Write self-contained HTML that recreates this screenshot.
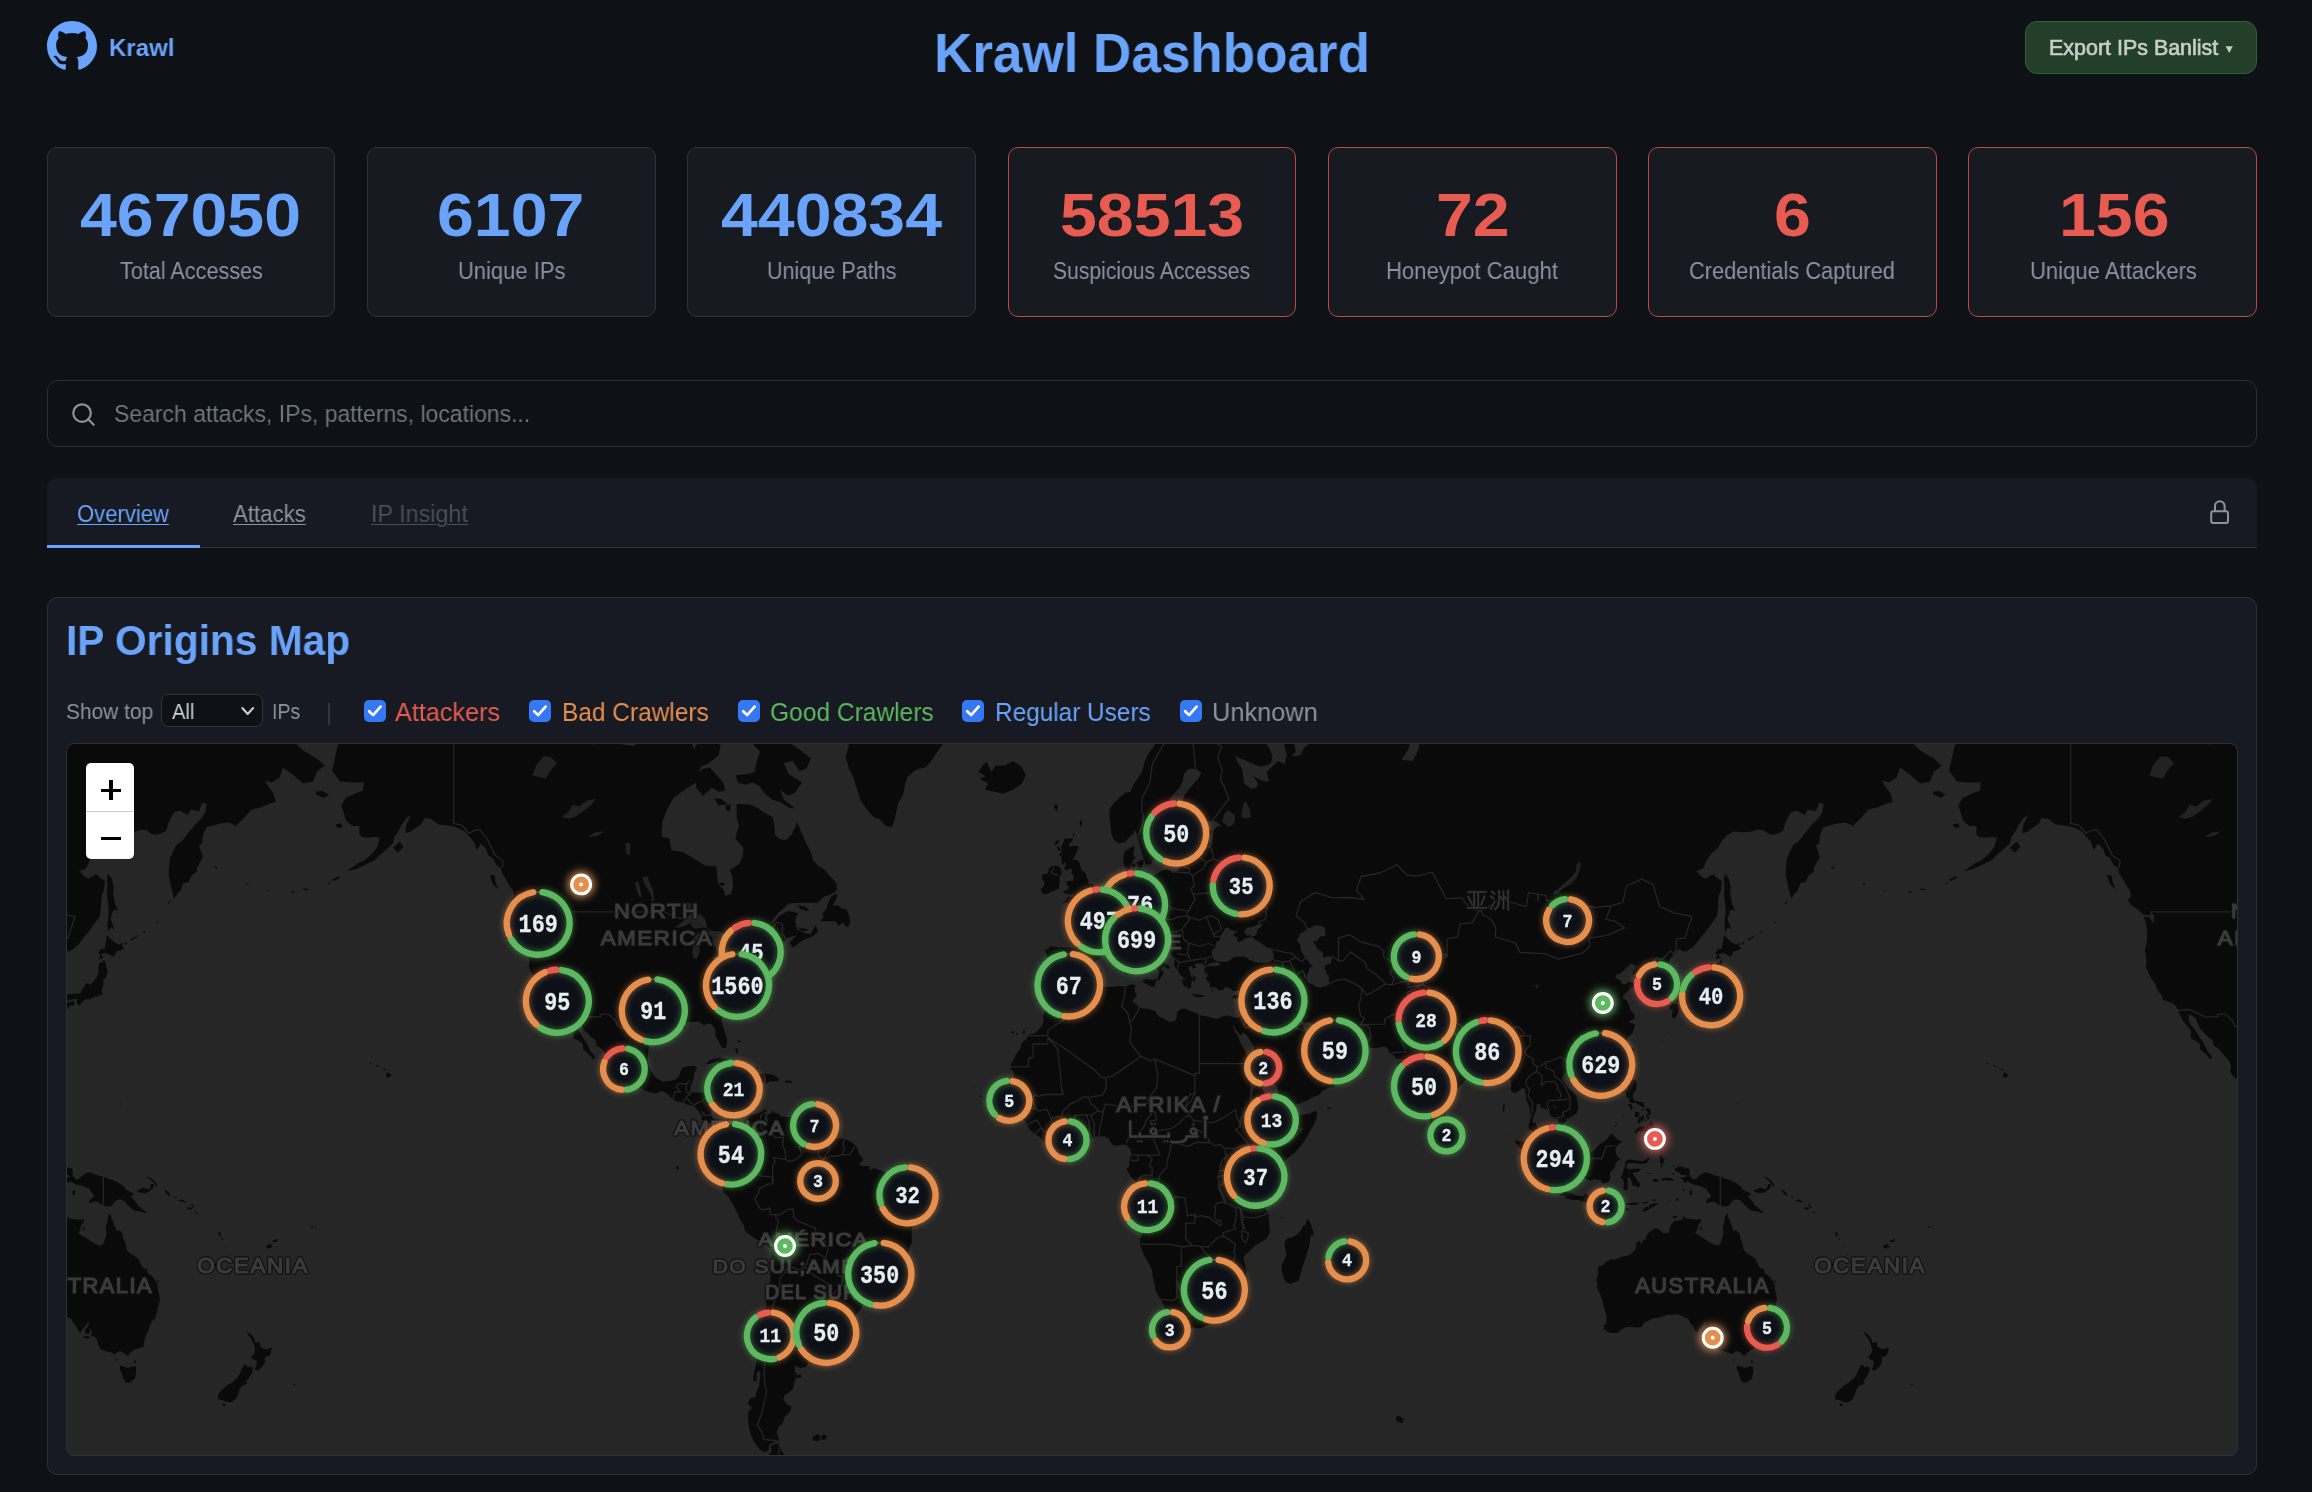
<!DOCTYPE html>
<html lang="en"><head><meta charset="utf-8"><title>Krawl Dashboard</title>
<style>
html,body{margin:0;padding:0}
body{width:2312px;height:1492px;background:#0e1116;position:relative;overflow:hidden;font-family:"Liberation Sans",sans-serif}
h1,h2{margin:0}
.t{position:absolute;white-space:pre;line-height:1;font-family:"Liberation Sans",sans-serif;transform-origin:0 50%;will-change:transform}
.card{position:absolute;top:147px;height:170px;box-sizing:border-box;background:#181a22;border:1.3px solid #2e323a;border-radius:10px}
.card.red{border-color:#b64a43}
.box{position:absolute;box-sizing:border-box}
.cb{position:absolute;top:700px;width:21.75px;height:21.75px;border-radius:5px;background:#3478f6}
.cb svg{position:absolute;left:0;top:0;width:100%;height:100%}
.cb path{fill:none;stroke:#fff;stroke-width:2.7;stroke-linecap:round;stroke-linejoin:round}
svg text{font-family:"Liberation Sans",sans-serif}
.cl text{font-family:"Liberation Mono",monospace}
</style></head>
<body>
<header>
<svg class="box" style="left:47px;top:21px" width="50" height="50" viewBox="0 0 16 16"><path fill="#6aa3fa" d="M8 0C3.58 0 0 3.58 0 8c0 3.54 2.29 6.53 5.47 7.59.4.07.55-.17.55-.38 0-.19-.01-.82-.01-1.49-2.01.37-2.53-.49-2.69-.94-.09-.23-.48-.94-.82-1.13-.28-.15-.68-.52-.01-.53.63-.01 1.08.58 1.23.82.72 1.21 1.87.87 2.33.66.07-.52.28-.87.51-1.07-1.78-.2-3.64-.89-3.64-3.95 0-.87.31-1.59.82-2.15-.08-.2-.36-1.02.08-2.12 0 0 .67-.21 2.2.82.64-.18 1.32-.27 2-.27.68 0 1.36.09 2 .27 1.53-1.04 2.2-.82 2.2-.82.44 1.1.16 1.92.08 2.12.51.56.82 1.27.82 2.15 0 3.07-1.87 3.75-3.65 3.95.29.25.54.73.54 1.48 0 1.07-.01 1.93-.01 2.2 0 .21.15.46.55.38A8.013 8.013 0 0016 8c0-4.42-3.58-8-8-8z"/></svg>
<div class="box" style="left:2025px;top:21px;width:232px;height:53px;background:#233f29;border:1.3px solid #2f6337;border-radius:12px"></div>
<svg class="box" style="left:2225px;top:45px" width="9" height="9" viewBox="0 0 9 9"><path d="M0.6 1.2h7.2L4.2 8z" fill="#c4cfc8"/></svg>
<span class="t" style="left:109.42px;top:35.93px;font-size:24.71px;transform:scaleX(0.9722);color:#6aa3fa;font-weight:700;">Krawl</span>
<h1 class="t" style="left:933.86px;top:26.03px;font-size:55.60px;transform:scaleX(0.9536);color:#6aa3fa;font-weight:700;">Krawl Dashboard</h1>
<span class="t" style="left:2048.52px;top:37.51px;font-size:21.37px;transform:scaleX(1.0040);color:#c4cfc8;-webkit-text-stroke:0.65px #c4cfc8;">Export IPs Banlist</span>
</header>
<section class="stats">
<div class="card" style="left:47px;width:288px"></div>
<span class="t" style="left:80.14px;top:185.17px;font-size:60.76px;transform:scaleX(1.0900);color:#6aa3fa;font-weight:700;">467050</span>
<span class="t" style="left:119.56px;top:258.74px;font-size:24.35px;transform:scaleX(0.8873);color:#8b949e;">Total Accesses</span>
<div class="card" style="left:367px;width:289px"></div>
<span class="t" style="left:436.96px;top:185.17px;font-size:60.76px;transform:scaleX(1.0900);color:#6aa3fa;font-weight:700;">6107</span>
<span class="t" style="left:458.04px;top:258.74px;font-size:24.35px;transform:scaleX(0.9019);color:#8b949e;">Unique IPs</span>
<div class="card" style="left:687px;width:289px"></div>
<span class="t" style="left:720.77px;top:185.17px;font-size:60.76px;transform:scaleX(1.0900);color:#6aa3fa;font-weight:700;">440834</span>
<span class="t" style="left:766.81px;top:258.74px;font-size:24.35px;transform:scaleX(0.8851);color:#8b949e;">Unique Paths</span>
<div class="card red" style="left:1008px;width:288px"></div>
<span class="t" style="left:1059.80px;top:185.17px;font-size:60.76px;transform:scaleX(1.0900);color:#e85b50;font-weight:700;">58513</span>
<span class="t" style="left:1053.34px;top:258.74px;font-size:24.35px;transform:scaleX(0.8669);color:#8b949e;">Suspicious Accesses</span>
<div class="card red" style="left:1328px;width:289px"></div>
<span class="t" style="left:1436.17px;top:185.17px;font-size:60.76px;transform:scaleX(1.0900);color:#e85b50;font-weight:700;">72</span>
<span class="t" style="left:1386.28px;top:258.74px;font-size:24.35px;transform:scaleX(0.9074);color:#8b949e;">Honeypot Caught</span>
<div class="card red" style="left:1648px;width:289px"></div>
<span class="t" style="left:1774.08px;top:185.17px;font-size:60.76px;transform:scaleX(1.0900);color:#e85b50;font-weight:700;">6</span>
<span class="t" style="left:1689.30px;top:258.74px;font-size:24.35px;transform:scaleX(0.8950);color:#8b949e;">Credentials Captured</span>
<div class="card red" style="left:1968px;width:289px"></div>
<span class="t" style="left:2058.76px;top:185.17px;font-size:60.76px;transform:scaleX(1.0900);color:#e85b50;font-weight:700;">156</span>
<span class="t" style="left:2029.54px;top:258.74px;font-size:24.35px;transform:scaleX(0.9071);color:#8b949e;">Unique Attackers</span>
</section>
<div class="search">
<div class="box" style="left:47px;top:380px;width:2210px;height:67px;background:#0e1116;border:1.3px solid #2a2f37;border-radius:11px"></div>
<svg class="box" style="left:69.7px;top:400.5px" width="26.3" height="26.3" viewBox="0 0 24 24" fill="none" stroke="#8b949e" stroke-width="2" stroke-linecap="round"><circle cx="11" cy="11" r="8"/><path d="M21.6 21.6l-4.95-4.95"/></svg>
<span class="t" style="left:113.74px;top:402.66px;font-size:23.26px;transform:scaleX(0.9881);color:#6e7681;">Search attacks, IPs, patterns, locations...</span>
</div>
<nav>
<div class="box" style="left:47px;top:478px;width:2210px;height:70px;background:#171a22;border-bottom:1.3px solid #2f343c;border-radius:9px 9px 0 0"></div>
<div class="box" style="left:47px;top:545.4px;width:153px;height:2.6px;background:#6aa3fa"></div>
<a class="t" style="left:77.04px;top:502.61px;font-size:23.62px;transform:scaleX(0.9342);color:#6aa3fa;text-decoration:underline;text-decoration-thickness:1.3px;text-underline-offset:2.2px;">Overview</a>
<a class="t" style="left:233.28px;top:502.61px;font-size:23.62px;transform:scaleX(0.9422);color:#8b949e;text-decoration:underline;text-decoration-thickness:1.3px;text-underline-offset:2.2px;">Attacks</a>
<a class="t" style="left:370.72px;top:502.61px;font-size:23.62px;transform:scaleX(0.9879);color:#484f58;text-decoration:underline;text-decoration-thickness:1.3px;text-underline-offset:2.2px;">IP Insight</a>
<svg class="box" style="left:2205px;top:496px" width="30" height="32" viewBox="0 0 30 32" fill="none" stroke="#8b949e" stroke-width="2"><rect x="6.2" y="15.3" width="16.8" height="11.6" rx="2.2"/><path d="M10 15.3v-5.3a4.8 4.8 0 0 1 9.6 0v5.3"/></svg>
</nav>
<section class="map-panel">
<div class="box" style="left:47px;top:597px;width:2210px;height:878px;background:#171a22;border:1.3px solid #2b3038;border-radius:10px"></div>
<div class="box" style="left:161.25px;top:694.25px;width:101.5px;height:32.5px;background:#0e1116;border:1.3px solid #30363d;border-radius:7px"></div>
<svg class="box" style="left:240px;top:705px" width="16" height="12" viewBox="0 0 16 12" fill="none" stroke="#c9d1d9" stroke-width="2" stroke-linecap="round" stroke-linejoin="round"><path d="M2.3 3l5.4 6 5.4-6"/></svg>
<div class="box" style="left:328.2px;top:702.5px;width:1.8px;height:22.5px;background:#30363d"></div>
<div class="cb" style="left:364.25px"><svg viewBox="0 0 22 22"><path d="M5.2 11.4l4 3.9 7.6-8.6"/></svg></div><div class="cb" style="left:529.25px"><svg viewBox="0 0 22 22"><path d="M5.2 11.4l4 3.9 7.6-8.6"/></svg></div><div class="cb" style="left:738.25px"><svg viewBox="0 0 22 22"><path d="M5.2 11.4l4 3.9 7.6-8.6"/></svg></div><div class="cb" style="left:962.25px"><svg viewBox="0 0 22 22"><path d="M5.2 11.4l4 3.9 7.6-8.6"/></svg></div><div class="cb" style="left:1180.25px"><svg viewBox="0 0 22 22"><path d="M5.2 11.4l4 3.9 7.6-8.6"/></svg></div>
<h2 class="t" style="left:65.67px;top:620.22px;font-size:41.79px;transform:scaleX(0.9739);color:#6aa3fa;font-weight:700;">IP Origins Map</h2>
<span class="t" style="left:65.60px;top:700.78px;font-size:22.53px;transform:scaleX(0.9299);color:#8b949e;">Show top</span>
<span class="t" style="left:172.09px;top:700.78px;font-size:22.53px;transform:scaleX(0.8957);color:#c9d1d9;">All</span>
<span class="t" style="left:271.82px;top:700.78px;font-size:22.53px;transform:scaleX(0.8685);color:#8b949e;">IPs</span>
<span class="t" style="left:395.36px;top:698.96px;font-size:26.16px;transform:scaleX(0.9632);color:#e85b50;">Attackers</span>
<span class="t" style="left:561.66px;top:698.96px;font-size:26.16px;transform:scaleX(0.9343);color:#e68f4d;">Bad Crawlers</span>
<span class="t" style="left:769.65px;top:698.96px;font-size:26.16px;transform:scaleX(0.9384);color:#5db95e;">Good Crawlers</span>
<span class="t" style="left:994.66px;top:698.96px;font-size:26.16px;transform:scaleX(0.9313);color:#6aa3fa;">Regular Users</span>
<span class="t" style="left:1211.60px;top:698.96px;font-size:26.16px;transform:scaleX(0.9701);color:#8b949e;">Unknown</span>
<div class="box" style="left:66px;top:743px;width:2172px;height:713px;border:1.2px solid #2c3138;border-radius:8px;overflow:hidden;background:#262626">
<svg style="position:absolute;left:0;top:0;will-change:transform" width="2170" height="711" viewBox="0 0 2170 711">
<defs>
<path id="landp" d="M652.1 138.5L657.1 138.5L657.5 141.5L653.0 141.5ZM265.4 135.5L271.7 132.1L272.6 134.0L266.3 137.0ZM260.9 139.6L263.6 137.4L264.1 138.5L261.4 140.4ZM236.2 144.8L241.6 144.8L241.6 145.9L236.2 145.9ZM224.1 147.7L227.7 147.0L227.7 148.4L224.1 148.8ZM1795.7 139.4L1798.4 139.4L1798.4 140.4L1795.7 140.4ZM1816.8 146.3L1819.5 146.8L1819.5 147.5L1816.8 147.1ZM1764.3 122.0L1767.4 123.6L1767.4 124.7L1764.5 123.6ZM730.3 161.6L737.0 162.3L742.4 165.8L739.3 167.1L733.4 165.1ZM728.0 64.5L721.3 63.5L714.6 58.7L705.6 55.8L698.8 50.8L692.1 41.7L685.4 38.6L678.6 40.7L670.5 38.6L668.8 31.2L680.9 30.1L687.6 27.9L689.9 16.9L693.0 7.7L685.4 -0.5L674.1 -4.1L665.2 -19.1L642.7 -25.6L620.2 -32.3L618.0 -68.2L638.2 -80.8L660.7 -79.1L674.1 -65.1L696.6 -46.1L712.3 -28.3L719.1 -12.8L714.6 -6.6L723.5 -0.5L732.5 5.4L743.8 14.6L739.3 24.7L732.5 26.9L725.8 16.9L716.8 19.1L721.3 30.1L730.3 35.4L734.8 38.6L728.0 48.8L721.3 51.8L713.2 45.8L716.8 55.8L723.5 60.7ZM668.3 304.0L670.5 304.5L671.0 308.9L668.8 308.4ZM670.1 296.0L674.1 297.0L673.7 298.5L670.5 297.5ZM689.0 324.0L691.7 323.5L691.7 325.0L689.4 325.0ZM647.2 54.8L653.9 54.8L660.7 59.7L651.7 61.6ZM638.7 320.1L642.7 316.3L647.2 314.8L651.7 313.8L656.2 314.3L660.7 315.3L665.2 317.7L669.6 318.2L674.1 321.6L678.6 323.5L683.1 325.9L686.7 328.3L683.1 329.8L676.4 329.5L671.0 330.0L673.2 326.4L668.3 325.5L666.1 321.6L660.7 320.6L655.3 319.2L650.8 317.7L645.8 318.7L642.7 320.1ZM745.1 693.2L750.5 690.3L753.6 691.8L752.3 696.8L746.9 696.8ZM755.0 691.0L760.4 691.8L758.6 695.4L754.1 696.1ZM609.0 422.3L611.3 421.9L611.7 425.0L609.5 425.5ZM778.8 12.4L781.9 24.7L786.4 33.3L789.6 43.7L793.2 55.8L799.9 65.4L806.6 73.0L813.4 75.7L819.2 82.1L824.6 83.0L826.9 78.5L829.1 68.3L831.4 58.7L835.8 51.8L838.1 40.7L840.3 33.3L847.1 26.9L851.6 24.7L858.3 23.6L862.8 19.1L869.5 8.9L876.3 -0.5L887.5 -2.9L898.7 -6.6L912.2 -25.6L921.2 -53.2L930.2 -100.8L939.1 -206.0L885.2 -298.1L750.5 -263.6L714.6 -181.3L696.6 -148.2L723.5 -118.8L759.5 -100.8L773.0 -53.2L775.2 -32.3L790.9 -19.1L788.7 -10.3L779.7 -7.8L781.9 1.9ZM422.6 130.9L428.0 131.7L428.4 137.7L431.6 145.2L426.2 140.7ZM319.1 330.5L320.0 328.0L322.9 329.5L324.6 331.7L321.5 333.6L319.7 333.6ZM316.2 324.7L318.0 324.7L319.3 325.7L317.5 326.5ZM309.1 321.7L310.5 321.1L311.9 323.0L309.9 323.0ZM302.3 319.4L304.0 318.5L304.5 319.9L303.1 320.2ZM313.5 323.5L315.9 323.7L315.3 324.2ZM690.3 329.8L694.4 329.8L697.9 329.8L702.0 330.2L705.6 330.7L709.2 332.6L712.8 335.9L710.1 336.9L705.6 337.4L702.0 337.4L698.8 340.2L696.6 337.8L692.1 337.8L685.8 336.9L686.7 335.5L692.1 335.9L694.8 335.9L693.0 333.1L690.8 330.7ZM911.3 27.9L916.7 20.3L919.8 18.0L924.3 27.9L928.8 21.4L937.8 21.4L945.9 16.9L954.4 22.5L958.9 31.2L954.9 39.6L945.9 45.8L936.0 49.8L927.9 47.8L918.0 45.8L921.2 39.6L912.2 34.4L918.9 32.2ZM668.3 336.9L673.2 336.4L677.3 338.3L674.6 339.5L670.5 339.5L668.3 337.8ZM573.1 -15.3L584.3 -7.8L591.0 -12.8L586.6 -24.3L577.6 -24.3ZM326.0 103.7L332.8 97.8L336.4 102.9L330.5 108.7ZM658.4 60.7L663.8 60.7L662.9 67.3L659.3 66.4ZM753.6 177.3L757.2 171.2L755.0 170.5L759.5 164.4L761.7 157.4L764.9 151.7L770.7 149.5L768.5 156.7L765.3 161.6L770.7 161.6L775.2 164.4L779.7 165.8L781.9 171.2L783.3 177.9L781.0 183.2L777.5 181.2L776.6 178.6L771.6 181.9L768.5 177.3L761.7 177.3ZM265.0 26.9L272.1 -4.1L287.9 -19.1L315.7 -43.2L337.3 -36.3L368.7 -25.6L386.7 -20.4L409.1 -11.5L422.6 -19.1L445.1 -28.3L458.5 -19.1L476.5 -23.0L503.5 -11.5L525.9 0.7L534.9 -4.1L548.4 -0.5L566.3 1.9L579.8 -6.6L588.8 -2.9L591.0 -19.1L595.5 -51.8L604.5 -25.6L611.3 -12.8L622.5 -6.6L627.0 5.4L636.0 -10.3L651.7 -19.1L654.8 -6.6L651.7 11.2L640.5 20.3L633.7 22.5L629.2 38.6L620.2 43.7L613.5 48.8L606.8 53.8L600.0 65.4L595.5 77.6L594.6 92.7L602.3 94.4L604.5 106.2L615.8 107.9L629.2 116.0L638.2 121.6L649.4 122.4L650.8 139.2L656.2 145.2L658.4 151.7L663.8 150.2L666.1 143.0L665.2 131.7L662.9 126.3L671.9 120.0L675.9 112.0L676.4 103.7L668.3 94.4L671.9 82.1L669.6 73.0L669.6 59.7L683.1 60.7L689.9 63.5L696.6 68.3L705.6 73.0L707.4 82.1L707.8 90.9L713.2 95.3L719.1 96.1L724.4 90.9L728.0 83.0L730.3 78.5L734.8 89.2L739.3 99.5L743.8 107.9L746.0 116.0L750.5 121.6L757.2 125.5L762.6 131.7L769.4 139.2L769.8 146.6L764.0 150.2L757.2 152.4L750.5 158.8L741.5 158.8L732.5 158.8L721.3 159.5L716.8 164.4L712.3 167.8L706.5 174.6L703.3 179.9L707.8 177.3L713.2 171.2L721.3 167.1L731.2 169.2L728.0 175.9L728.9 181.2L730.3 185.8L734.8 187.8L739.3 189.7L743.8 189.7L748.7 181.2L750.9 187.8L746.0 192.3L739.3 194.8L734.8 196.7L730.3 200.5L725.8 203.6L722.7 198.6L728.0 192.9L730.3 191.0L723.5 192.9L719.1 194.2L716.8 197.3L711.0 198.0L705.6 202.3L702.0 208.5L702.9 212.8L705.6 214.0L705.6 215.2L699.7 215.8L694.4 217.6L689.0 219.4L687.6 222.3L686.7 227.0L683.6 231.1L682.2 234.5L679.1 240.8L678.6 243.0L680.0 248.6L680.4 251.3L675.9 254.6L670.5 258.4L665.2 262.2L660.7 266.0L656.6 269.2L654.8 274.4L654.4 277.0L656.2 283.8L658.4 288.9L660.2 296.0L659.8 301.5L658.4 304.0L655.3 304.0L652.6 299.0L648.5 291.9L648.1 284.8L644.5 280.2L641.4 279.6L636.9 281.2L631.5 277.6L627.0 278.1L622.5 278.1L618.4 279.1L617.5 283.3L619.8 284.8L614.9 284.3L609.9 282.7L604.5 281.7L598.7 281.2L594.2 283.3L588.8 287.4L583.4 291.9L582.5 300.0L581.2 307.4L580.7 317.2L583.0 324.5L586.6 330.7L588.8 334.0L593.3 335.9L595.5 337.8L602.3 336.9L607.7 335.9L611.7 332.6L614.0 326.9L614.9 324.0L621.1 322.1L628.3 322.1L630.1 324.5L627.4 328.3L627.0 331.7L625.6 337.4L623.8 341.1L623.4 345.8L621.6 348.6L626.1 348.6L633.7 348.6L638.2 348.6L642.7 349.1L646.3 352.8L644.9 359.8L644.5 364.4L644.0 371.3L647.2 375.9L650.8 379.5L653.9 381.3L657.1 380.9L661.1 378.6L665.2 378.1L669.6 379.0L672.8 382.2L674.1 384.9L671.9 387.7L668.8 384.9L667.4 382.2L662.9 380.9L659.3 383.6L660.7 387.2L657.5 388.1L655.3 386.3L651.7 384.0L647.2 383.6L644.5 382.2L644.0 379.5L639.1 376.8L635.1 375.9L634.6 371.7L631.5 367.2L627.0 362.1L622.5 361.2L615.8 358.4L609.9 357.5L605.4 354.7L598.7 348.6L594.2 347.2L588.8 349.6L582.1 348.2L576.7 345.8L570.8 343.5L564.1 340.2L559.6 338.8L553.8 335.5L549.3 332.6L546.1 327.8L547.0 322.1L545.2 317.2L542.1 313.3L538.0 308.9L534.9 305.0L529.5 301.5L528.6 296.5L523.7 292.4L520.5 288.9L516.0 284.8L513.3 278.6L511.5 273.4L504.4 270.2L504.8 275.5L505.7 279.6L510.2 284.8L512.4 287.9L515.6 293.5L519.2 298.5L521.4 302.5L523.7 307.4L527.3 311.4L528.2 313.8L525.9 315.3L524.1 312.4L519.2 307.9L516.0 305.0L516.0 300.0L511.1 296.5L506.6 294.0L506.6 290.4L507.1 286.8L503.5 282.7L499.9 278.1L497.6 274.4L495.4 269.7L493.6 265.4L492.2 262.2L488.2 259.0L484.6 257.9L478.8 255.7L477.9 251.9L472.9 244.7L472.0 241.9L469.8 237.9L467.5 234.5L463.9 227.6L461.7 222.3L462.6 217.6L462.1 212.8L460.8 206.7L463.0 197.3L463.0 186.5L462.1 179.9L459.9 172.6L465.3 173.2L469.3 179.3L470.2 172.6L467.5 167.8L465.7 171.2L459.4 170.5L454.0 165.8L447.3 160.9L443.7 156.0L446.9 152.4L446.0 146.6L442.8 142.2L439.2 135.5L435.2 129.4L433.8 124.0L429.3 120.8L426.2 114.4L421.3 111.2L419.0 104.6L413.6 99.5L410.0 106.2L406.9 97.8L402.4 92.7L397.9 87.4L391.2 83.9L384.4 82.1L377.7 81.2L371.0 80.3L364.2 74.8L357.5 73.9L354.3 80.3L348.5 83.9L344.0 87.4L338.2 89.2L339.5 80.3L344.0 71.1L339.5 73.9L335.0 80.3L331.4 87.4L327.4 92.7L326.0 99.5L319.3 105.4L312.6 111.2L308.1 116.0L301.3 119.2L294.6 122.4L287.9 125.5L279.8 127.1L285.6 123.2L292.4 118.4L298.2 116.0L305.8 108.7L310.3 102.9L313.0 93.5L308.1 92.7L303.6 93.5L296.8 93.5L292.4 90.9L292.4 82.1L285.6 82.1L278.9 76.6L276.6 68.3L274.4 61.6L278.9 53.8L283.4 51.8L290.1 48.8L295.9 46.8L296.8 38.6L290.1 38.6L283.4 38.6L273.0 37.5L267.6 30.1ZM268.5 80.3L274.4 79.4L275.7 83.0L270.8 83.9ZM731.2 183.2L736.1 184.5L741.5 185.2L737.9 187.8L733.4 186.5ZM718.2 336.4L723.5 336.4L725.3 337.4L724.0 338.8L718.2 338.8ZM629.2 30.1L636.0 24.7L642.7 23.6L651.7 33.3L656.2 38.6L658.4 46.8L651.7 47.8L644.9 43.7L636.0 51.8L629.2 43.7ZM672.8 382.2L675.0 384.9L677.3 380.9L680.0 378.1L680.9 373.6L684.0 371.3L687.6 369.9L692.1 369.0L695.7 367.2L697.9 364.9L700.2 366.7L698.4 370.4L697.5 374.9L699.3 379.0L701.1 376.8L699.7 372.2L702.0 369.9L704.7 369.0L705.6 365.8L707.4 369.0L711.0 369.5L713.7 372.2L719.1 373.1L723.5 373.1L728.0 375.4L731.6 373.6L737.0 372.7L741.5 372.7L738.8 374.9L742.4 376.8L746.0 380.4L747.4 382.7L750.5 383.1L754.1 385.9L757.2 389.5L760.4 392.6L764.0 394.5L768.5 394.9L773.0 394.5L777.5 394.9L781.9 396.7L786.4 399.4L788.7 401.7L790.9 405.3L792.3 411.1L795.4 413.4L795.9 416.5L791.8 420.1L794.1 421.9L799.9 421.9L802.6 422.3L802.2 426.8L806.6 424.1L811.1 425.5L815.6 427.3L818.8 429.1L820.6 432.2L824.6 431.8L831.4 433.6L835.8 434.0L840.3 434.0L844.8 436.3L847.1 437.6L851.6 441.7L856.1 443.9L861.0 444.4L862.8 448.0L863.7 452.5L863.2 458.0L861.4 463.0L857.4 467.5L853.8 471.6L851.6 475.3L847.1 479.9L844.8 484.5L844.8 491.5L844.8 498.5L842.6 503.2L841.2 510.3L838.5 515.1L835.8 520.4L835.8 523.3L831.4 527.0L826.0 527.2L820.1 528.2L815.6 531.1L811.1 533.1L806.2 536.5L802.6 539.5L801.7 544.5L801.7 549.6L800.8 554.6L796.8 559.3L794.1 564.4L790.0 569.7L786.0 573.9L782.8 579.2L779.7 582.5L776.6 586.8L773.4 588.7L768.5 588.2L764.9 586.3L759.9 585.7L757.5 583.0L757.2 586.3L761.7 589.0L763.5 592.3L762.6 595.6L765.3 597.9L764.0 602.4L761.3 606.3L755.9 609.2L748.3 610.9L742.4 611.5L740.2 613.3L741.1 619.1L739.3 622.6L733.4 624.1L728.0 622.1L727.6 627.4L730.3 631.1L734.3 630.5L733.9 634.1L728.9 633.5L727.6 637.8L726.2 644.7L722.7 647.8L717.7 651.0L716.4 655.5L720.0 660.8L724.4 662.7L723.5 667.4L717.7 672.8L715.5 679.7L711.0 683.2L709.6 688.2L712.3 697.6L707.8 697.6L702.0 701.3L701.5 706.5L697.5 708.0L693.0 705.8L689.9 702.0L686.3 696.8L683.6 689.6L681.8 682.5L680.9 674.2L681.3 667.4L684.9 664.1L680.9 659.4L683.1 654.2L688.5 652.9L689.4 647.8L692.1 642.8L692.6 636.6L693.5 631.1L692.6 626.8L689.9 628.0L689.4 637.2L685.8 636.6L687.2 628.6L688.5 623.2L689.4 617.3L690.8 613.3L689.4 605.8L689.4 601.8L691.7 599.0L693.5 593.4L696.2 587.9L697.9 580.9L698.8 573.9L698.4 567.6L699.3 561.3L698.8 556.2L701.1 549.6L702.4 543.5L703.3 537.0L703.3 530.1L704.7 523.3L705.1 517.5L704.7 511.8L703.8 505.1L699.3 500.9L694.4 497.6L688.5 494.8L682.2 490.6L677.7 486.4L677.3 482.2L673.7 476.2L671.0 470.7L668.8 466.1L666.5 461.1L663.8 457.1L661.1 452.1L656.6 448.5L655.3 444.8L654.8 441.2L658.0 437.6L659.8 435.4L661.1 432.2L659.3 433.1L656.6 430.9L657.5 425.9L658.9 422.8L660.4 420.1L660.7 417.4L665.2 415.6L667.0 412.9L667.4 409.8L671.0 409.3L672.8 405.3L672.8 402.1L671.9 396.3L672.3 391.3L670.5 388.6ZM248.8 47.8L255.1 46.8L261.8 50.8L256.4 53.8L249.7 50.8ZM711.9 699.8L713.7 705.0L716.8 710.3L722.7 714.2L727.1 715.7L721.3 718.8L712.3 720.4L705.6 718.0L698.8 713.4L702.0 711.1L704.7 706.5L703.8 702.0L708.7 699.8ZM742.0 372.7L746.0 372.2L746.0 375.4L742.0 375.4ZM494.5 -19.1L512.4 -7.8L534.9 -9.1L552.9 -11.5L564.1 -19.1L561.9 -39.1L548.4 -68.2L516.9 -68.2L490.0 -46.1ZM1166.4 280.2L1165.1 273.1L1162.8 271.8L1159.2 271.5L1154.8 272.8L1150.3 274.9L1145.8 273.9L1141.3 272.8L1133.2 271.3L1130.0 269.2L1124.2 267.6L1118.8 264.4L1114.3 264.9L1110.3 267.6L1109.4 274.4L1107.1 277.6L1101.7 277.6L1096.4 274.4L1091.9 272.8L1089.2 269.2L1088.3 267.0L1082.9 265.4L1079.3 264.4L1074.8 264.6L1071.7 262.8L1068.5 260.1L1064.9 257.4L1068.1 254.1L1069.9 251.3L1067.6 247.5L1067.6 244.1L1069.4 241.6L1065.8 240.5L1064.0 240.2L1060.4 241.9L1055.9 242.4L1051.4 241.9L1047.0 242.7L1042.5 243.0L1038.0 242.4L1033.5 243.0L1029.0 244.1L1024.5 245.2L1020.0 248.0L1015.5 250.2L1011.0 252.4L1006.5 251.3L1002.0 251.9L997.5 250.8L995.7 248.0L993.5 248.6L992.2 253.0L989.9 257.4L985.9 260.6L981.8 262.2L978.7 266.0L976.0 271.8L976.4 277.6L975.5 281.2L971.5 285.8L968.3 288.9L962.1 290.4L959.4 295.0L954.9 299.0L953.1 305.0L949.0 309.9L947.2 314.8L944.1 319.7L943.4 325.0L945.9 326.4L947.2 331.7L947.7 337.8L945.9 345.8L944.5 350.5L941.4 354.2L944.5 357.5L944.5 362.1L945.0 365.3L948.1 368.1L951.7 371.3L954.4 374.5L958.5 377.7L960.7 381.3L962.5 385.4L968.3 389.9L972.4 393.1L977.3 397.2L982.7 400.3L986.3 401.4L990.8 399.9L997.5 398.1L1002.0 397.6L1006.5 398.3L1011.0 399.6L1015.5 397.6L1020.0 395.8L1024.5 394.2L1029.0 392.6L1033.5 392.2L1038.0 392.6L1041.6 394.5L1043.8 398.5L1047.0 401.7L1051.4 401.2L1055.9 400.8L1058.6 400.3L1060.0 402.1L1063.1 404.4L1064.0 407.5L1063.8 412.0L1062.7 416.5L1062.2 419.2L1061.8 423.2L1059.5 424.6L1061.8 429.1L1064.0 432.7L1068.5 437.6L1072.6 441.2L1074.8 445.7L1075.2 448.5L1077.9 452.5L1079.7 458.0L1079.3 461.6L1082.0 468.4L1082.0 473.0L1080.2 477.6L1076.6 482.2L1074.8 489.2L1073.0 496.2L1073.0 500.9L1075.2 506.5L1078.4 513.7L1082.0 519.9L1085.1 526.2L1085.6 532.1L1087.4 539.5L1088.7 547.0L1091.9 553.1L1094.6 556.2L1097.3 562.4L1100.4 570.2L1102.2 575.5L1100.4 578.2L1102.6 583.0L1103.1 585.2L1106.7 586.8L1109.8 587.9L1114.3 585.7L1118.8 584.1L1125.6 583.6L1131.4 584.6L1135.4 583.6L1140.4 581.4L1144.9 578.2L1149.4 574.4L1153.9 568.6L1157.4 563.9L1159.7 560.3L1163.7 556.2L1166.4 552.1L1167.8 546.0L1166.9 542.0L1168.2 538.5L1175.0 536.0L1179.0 532.1L1179.5 524.8L1178.1 519.9L1176.3 514.2L1178.6 510.3L1183.0 507.0L1187.1 502.3L1191.6 499.4L1197.4 496.2L1200.6 492.9L1202.8 488.2L1202.4 482.2L1201.9 476.7L1201.7 469.8L1199.7 467.1L1197.9 462.5L1196.5 457.1L1197.0 452.1L1194.7 448.9L1194.7 445.3L1196.5 441.7L1198.3 439.0L1200.6 434.0L1203.7 430.9L1206.9 428.6L1210.0 424.6L1214.0 420.1L1219.0 415.6L1223.5 412.0L1228.0 408.4L1232.5 403.5L1236.5 398.5L1240.1 392.6L1243.2 387.2L1245.9 382.2L1248.2 378.1L1249.5 373.6L1250.3 367.5L1247.3 367.2L1243.7 369.2L1240.1 370.1L1235.6 370.6L1231.1 371.3L1226.6 372.2L1222.1 373.6L1219.0 373.8L1216.3 371.7L1214.0 369.0L1212.2 368.5L1214.5 365.3L1213.6 363.5L1210.9 360.7L1207.3 357.9L1204.2 354.2L1200.6 352.8L1198.3 351.0L1196.1 347.2L1194.7 342.1L1192.9 338.8L1189.8 335.9L1187.5 331.7L1187.1 326.4L1186.2 322.1L1184.8 318.7L1181.3 314.8L1179.5 309.9L1176.8 305.0L1174.5 301.0L1172.3 296.0L1170.9 291.9L1168.2 287.9L1166.4 283.8ZM1030.6 227.0L1033.9 225.0L1035.5 227.0L1033.5 228.7ZM1037.1 224.4L1039.3 225.0L1038.9 225.8ZM1025.4 230.5L1027.2 229.9L1026.7 231.3ZM994.4 160.2L998.4 158.8L1001.1 158.4L1004.3 158.8L1006.5 156.0L1011.0 156.3L1014.6 155.3L1020.0 155.3L1024.0 154.2L1026.3 152.4L1024.5 151.0L1023.1 150.2L1024.5 148.1L1027.6 142.2L1024.5 139.6L1021.3 140.0L1021.3 135.5L1019.6 134.0L1019.6 130.9L1017.3 127.8L1014.6 126.3L1013.3 122.4L1012.4 118.4L1009.7 116.0L1005.6 116.0L1007.4 112.8L1008.8 110.3L1010.6 106.2L1011.5 102.1L1006.5 102.1L1002.5 102.9L1001.6 100.4L1005.2 97.0L1006.1 94.0L1002.0 94.4L997.5 94.4L996.2 98.7L993.9 102.9L994.8 107.9L992.2 110.3L994.4 113.6L994.8 120.0L997.1 120.8L998.0 116.8L998.9 120.0L997.5 124.0L998.0 126.3L1002.0 125.5L1005.2 124.7L1004.3 129.4L1007.0 130.9L1006.5 134.7L1006.1 137.0L1001.1 137.0L999.3 137.7L999.8 140.7L1001.6 141.5L1001.6 144.4L998.9 146.6L996.6 147.3L997.5 149.5L1001.1 149.5L1004.3 151.0L1007.4 150.2L1005.6 152.4L1001.1 152.4L999.3 155.3L996.6 158.8ZM944.1 288.1L947.7 287.1L946.3 289.9ZM949.0 289.4L950.8 289.1L950.8 290.9L949.0 290.9ZM956.2 286.8L958.0 286.3L957.6 289.4L955.3 289.7ZM958.0 284.0L959.8 283.8L959.4 285.3ZM913.1 351.4L914.9 351.4L914.7 353.3L913.3 353.1ZM906.4 342.8L907.9 342.8L907.7 344.0ZM1214.0 472.5L1215.4 472.8L1215.2 474.8L1214.0 474.4ZM1058.6 210.3L1061.8 206.7L1062.9 212.2L1061.3 216.4L1059.1 214.0ZM1125.6 250.2L1130.0 250.2L1134.5 251.1L1138.1 251.9L1134.5 253.3L1130.0 253.3L1126.0 251.6ZM1165.1 252.7L1168.2 251.1L1172.7 250.2L1175.4 249.1L1172.7 253.0L1168.2 255.2ZM1124.2 231.1L1128.2 232.5L1130.3 236.2L1127.8 234.2ZM1137.2 228.5L1139.5 228.7L1138.1 230.5ZM1144.4 246.4L1146.7 245.0L1146.0 248.0ZM1136.3 233.1L1137.5 234.8L1136.1 234.8ZM979.6 241.9L980.5 236.2L977.3 232.2L979.6 227.0L980.5 218.8L980.0 211.5L978.2 206.7L984.1 202.3L990.8 203.0L997.5 203.6L1004.3 203.6L1011.9 204.2L1014.2 196.7L1015.1 190.3L1014.6 186.5L1010.1 180.6L1007.4 177.9L1000.2 175.9L998.9 171.9L1004.3 169.2L1007.9 170.5L1012.8 169.9L1011.5 163.0L1014.6 165.1L1019.1 165.8L1020.9 163.0L1025.4 160.9L1027.2 158.1L1027.2 154.5L1031.2 153.1L1035.7 151.0L1038.0 147.3L1040.2 144.4L1041.1 140.0L1043.8 136.2L1047.8 135.5L1051.9 134.7L1055.9 134.0L1058.6 132.5L1060.0 127.8L1058.6 124.0L1056.4 119.2L1056.4 112.0L1058.2 107.1L1063.6 103.7L1067.6 101.6L1066.7 108.7L1066.3 112.0L1069.0 113.6L1065.8 116.8L1063.6 121.6L1063.1 125.5L1064.9 127.8L1069.4 131.7L1073.9 130.2L1076.1 128.2L1080.6 127.8L1083.8 132.5L1089.6 130.2L1094.1 127.1L1099.5 125.5L1103.5 126.3L1104.9 129.0L1108.9 128.6L1112.1 124.7L1114.3 120.8L1114.3 114.4L1114.3 109.5L1117.0 103.7L1121.5 102.1L1124.7 107.9L1128.2 107.1L1129.6 101.2L1129.6 97.0L1126.0 93.5L1125.6 89.2L1130.0 86.5L1136.8 85.6L1145.8 86.5L1151.2 82.1L1155.6 83.0L1150.3 78.5L1147.1 76.6L1139.0 78.5L1132.3 80.3L1123.3 83.4L1121.1 80.3L1116.6 76.6L1116.1 68.3L1115.2 58.7L1117.0 51.8L1121.5 45.8L1127.8 38.6L1132.3 33.3L1134.1 29.0L1130.9 25.8L1128.2 24.7L1121.5 24.7L1117.0 30.1L1115.7 37.5L1112.1 44.8L1106.7 49.8L1101.7 56.8L1098.2 63.5L1097.3 73.0L1097.7 76.6L1103.1 80.3L1104.9 83.9L1101.7 89.2L1096.4 93.5L1094.6 99.5L1094.6 105.4L1093.2 111.2L1091.0 115.2L1086.0 115.2L1084.2 120.0L1078.4 120.8L1077.5 116.0L1076.1 112.8L1073.9 105.4L1072.1 99.5L1070.3 90.9L1067.6 85.6L1066.3 90.1L1062.7 92.7L1058.2 97.8L1052.3 99.5L1047.0 96.1L1044.7 90.9L1043.4 82.1L1042.5 73.0L1042.5 65.4L1046.1 59.7L1051.4 54.8L1058.2 48.8L1063.6 47.8L1066.3 40.7L1070.8 34.4L1075.2 26.9L1077.5 18.0L1081.1 10.1L1086.5 3.0L1089.6 -2.9L1094.1 -10.3L1100.8 -17.8L1107.6 -25.6L1116.6 -29.6L1127.8 -39.1L1136.8 -40.5L1148.0 -39.1L1159.2 -30.9L1154.8 -21.7L1168.2 -17.8L1181.7 -15.3L1192.9 -5.4L1201.0 1.9L1205.5 11.2L1204.2 19.1L1199.7 21.4L1192.9 22.5L1183.9 19.1L1177.2 15.8L1170.5 13.5L1167.3 10.1L1170.5 18.0L1175.0 24.7L1176.3 33.3L1177.2 39.6L1183.9 44.8L1189.8 43.7L1190.7 38.6L1186.2 32.2L1192.9 35.4L1198.8 37.5L1201.9 37.5L1199.7 27.9L1206.4 21.4L1210.9 16.9L1217.6 20.3L1219.9 11.2L1217.6 1.9L1215.4 -7.8L1226.6 -4.1L1228.9 7.7L1224.4 12.4L1233.4 11.2L1237.8 3.0L1249.1 -5.4L1258.1 -4.1L1267.0 -7.8L1280.5 -11.5L1291.7 -23.0L1307.5 -15.3L1320.9 -10.3L1327.7 -2.9L1329.9 -12.8L1320.9 -21.7L1320.5 -39.1L1327.7 -65.1L1345.6 -65.1L1343.4 -39.1L1346.5 -12.8L1341.2 5.4L1334.4 15.8L1345.6 16.9L1351.5 5.4L1354.6 -12.8L1350.1 -39.1L1356.9 -60.6L1370.3 -56.2L1379.3 -76.0L1410.8 -100.8L1469.2 -138.0L1491.6 -158.8L1527.6 -84.0L1559.0 -68.2L1603.9 -39.1L1648.8 -60.6L1693.8 -39.1L1738.7 -20.4L1783.6 -12.8L1806.0 -23.0L1828.5 -12.8L1842.0 -4.1L1853.2 6.6L1866.7 14.6L1874.8 21.4L1866.7 27.9L1863.1 37.5L1853.2 39.6L1842.0 30.1L1833.0 23.6L1829.8 33.3L1821.8 38.6L1815.0 36.5L1817.7 41.7L1823.1 48.8L1825.8 57.7L1819.5 59.7L1810.5 63.5L1801.5 65.4L1794.8 73.0L1785.8 82.1L1779.1 78.5L1770.1 79.4L1761.1 82.1L1756.6 83.0L1753.0 90.9L1752.1 99.5L1749.0 101.2L1751.2 107.9L1753.0 113.6L1750.3 117.6L1746.8 124.0L1746.8 127.8L1741.4 131.7L1738.7 137.7L1733.3 139.2L1730.6 146.6L1726.1 151.7L1723.8 154.5L1722.9 150.2L1721.1 143.0L1718.9 131.7L1718.9 124.0L1719.8 114.4L1722.9 107.9L1726.1 101.2L1731.9 97.0L1738.7 88.3L1745.4 80.3L1751.2 74.8L1755.3 68.3L1756.6 59.7L1752.1 58.7L1749.0 67.3L1740.9 65.4L1737.8 71.1L1729.7 66.4L1723.8 68.3L1718.5 78.5L1716.2 86.5L1711.7 89.2L1705.0 90.9L1700.5 89.2L1697.3 86.5L1691.5 85.6L1684.8 87.4L1675.8 88.3L1666.8 87.4L1660.1 90.9L1654.7 97.0L1651.1 103.7L1644.3 109.5L1639.8 116.0L1636.3 124.0L1630.9 127.1L1628.6 126.3L1634.5 132.5L1638.1 134.7L1642.1 132.5L1646.6 130.2L1650.2 134.0L1654.7 137.0L1654.2 145.2L1651.5 152.4L1651.1 160.9L1650.6 167.8L1649.7 172.6L1645.7 177.9L1642.1 183.2L1637.6 189.1L1633.1 194.2L1628.6 200.5L1624.1 204.2L1619.6 207.3L1615.6 207.3L1612.9 205.1L1609.8 206.7L1607.1 209.7L1605.7 211.5L1602.6 215.8L1602.1 219.9L1597.2 223.5L1593.1 225.8L1592.7 229.3L1596.7 232.8L1600.3 238.5L1601.7 244.7L1601.2 249.7L1598.5 252.4L1594.0 254.1L1588.2 256.3L1587.7 251.9L1588.6 247.5L1587.3 243.6L1589.5 240.8L1586.8 237.4L1582.4 237.4L1581.0 234.5L1582.8 228.2L1579.2 225.2L1574.7 225.8L1570.2 228.2L1564.8 231.6L1566.6 227.0L1568.9 222.3L1564.4 219.4L1559.0 224.1L1555.9 227.6L1552.3 229.9L1548.7 230.5L1548.7 233.9L1553.2 236.2L1555.0 240.2L1558.6 240.2L1562.6 237.4L1567.1 239.1L1570.7 240.2L1568.9 242.4L1563.5 244.1L1560.3 247.5L1556.3 251.3L1555.9 254.6L1559.9 256.8L1562.6 262.2L1563.5 266.5L1567.5 270.7L1567.5 274.9L1563.5 276.5L1561.7 278.1L1565.7 279.6L1568.0 280.7L1566.6 285.8L1565.7 288.9L1561.7 292.4L1559.0 297.0L1557.2 301.5L1554.5 304.0L1552.3 306.9L1550.0 307.9L1546.4 311.9L1543.3 314.8L1538.8 316.3L1533.4 318.2L1530.3 318.7L1529.4 315.8L1527.6 319.7L1523.1 321.1L1517.7 322.6L1515.9 327.4L1513.6 327.8L1513.2 322.6L1509.6 321.6L1506.4 321.6L1502.9 323.0L1499.7 325.9L1498.4 328.3L1495.7 332.6L1494.8 335.5L1497.9 339.3L1499.7 342.6L1502.9 345.8L1506.4 348.2L1509.1 351.9L1510.5 357.5L1510.9 362.1L1511.4 364.4L1509.6 369.5L1506.0 371.7L1502.0 374.0L1499.7 374.5L1499.3 377.7L1495.2 380.4L1492.5 382.0L1490.7 379.0L1491.2 375.9L1488.5 374.0L1484.9 373.1L1482.6 369.9L1481.7 367.2L1478.2 364.4L1473.7 363.7L1473.2 360.0L1470.1 360.3L1469.2 363.0L1469.2 366.7L1466.9 371.3L1465.6 375.9L1466.0 379.0L1468.7 379.0L1470.5 383.6L1471.4 388.1L1474.1 390.2L1477.3 391.7L1479.5 393.5L1482.6 395.8L1484.4 399.4L1484.4 405.3L1486.2 409.8L1488.0 414.3L1484.9 415.2L1480.4 412.0L1475.5 408.4L1472.8 403.9L1471.0 398.5L1470.5 394.5L1469.6 391.7L1467.4 388.6L1464.7 385.9L1462.0 385.4L1461.5 382.2L1462.4 378.1L1463.3 373.6L1462.9 369.0L1462.9 364.9L1461.1 359.8L1459.3 355.2L1458.8 350.5L1458.4 345.8L1455.7 343.5L1453.4 345.8L1448.5 349.1L1444.9 348.6L1443.6 345.8L1444.5 341.1L1443.6 336.9L1442.2 334.0L1439.1 329.8L1436.8 326.9L1434.6 324.5L1432.3 318.2L1429.6 317.2L1426.5 319.7L1423.4 320.1L1419.8 320.6L1415.3 321.1L1410.8 323.0L1409.9 326.9L1407.6 329.8L1404.0 330.7L1400.9 333.6L1397.3 337.4L1394.2 340.7L1389.7 345.4L1386.1 346.8L1383.8 349.1L1380.7 351.0L1379.8 355.2L1380.2 362.1L1378.9 366.7L1378.4 371.3L1378.7 374.5L1375.7 374.9L1374.8 379.0L1371.7 380.4L1370.8 382.7L1368.3 384.6L1365.9 383.1L1363.6 380.4L1362.3 375.9L1360.5 370.4L1357.8 366.7L1356.0 362.1L1354.2 356.6L1352.4 352.8L1350.1 348.2L1348.8 342.6L1347.4 337.4L1347.0 334.0L1346.5 329.3L1347.0 324.5L1346.1 321.1L1345.2 319.2L1344.3 323.0L1338.9 325.5L1335.8 325.0L1330.8 320.1L1329.9 318.2L1333.1 317.2L1335.8 314.8L1332.2 315.5L1328.6 313.8L1326.3 311.4L1323.2 309.9L1321.8 306.5L1319.1 303.0L1314.2 303.0L1309.7 304.0L1303.0 304.0L1298.5 304.5L1294.0 304.0L1289.5 303.5L1285.0 303.0L1280.5 302.0L1277.4 300.0L1276.0 296.0L1272.9 294.5L1269.3 296.0L1264.8 297.0L1260.3 296.0L1256.3 292.4L1251.3 290.4L1248.2 285.3L1245.5 279.6L1242.3 278.6L1239.6 277.6L1237.8 280.2L1235.6 282.2L1236.9 285.8L1239.2 289.9L1242.3 294.0L1245.0 296.5L1245.5 300.0L1244.6 302.5L1248.2 306.0L1248.4 302.0L1250.0 299.2L1251.8 301.5L1251.8 305.0L1250.4 307.4L1252.7 309.9L1258.1 309.4L1262.5 308.9L1265.7 306.0L1269.3 303.0L1272.0 300.0L1273.3 298.2L1273.3 302.0L1273.8 306.0L1276.9 310.4L1280.5 311.4L1284.1 312.4L1286.8 315.8L1288.6 317.2L1286.4 322.6L1284.1 326.9L1280.1 328.3L1279.6 334.0L1276.0 335.0L1273.8 338.8L1268.4 341.1L1267.0 343.5L1262.5 343.5L1258.1 345.8L1254.5 347.2L1253.6 350.0L1249.1 351.9L1244.6 353.8L1240.1 356.6L1235.6 357.9L1231.1 360.3L1225.7 360.7L1222.1 363.0L1217.6 363.9L1215.4 363.7L1214.0 359.8L1212.2 352.8L1211.8 348.2L1210.0 342.6L1206.4 338.8L1204.2 334.0L1201.9 330.2L1197.9 325.9L1196.1 322.1L1194.7 317.2L1192.0 310.9L1187.5 306.0L1186.6 302.5L1183.9 297.5L1180.4 291.9L1177.2 288.9L1175.9 288.4L1176.8 282.7L1176.3 286.3L1175.0 289.9L1173.6 291.2L1170.9 288.4L1168.2 284.8L1166.4 280.2L1165.1 273.1L1169.1 273.9L1173.6 272.8L1175.9 269.2L1177.2 264.4L1178.6 260.6L1181.3 254.6L1181.3 249.7L1181.7 246.4L1182.6 243.0L1179.5 244.1L1175.4 243.0L1171.8 246.4L1166.9 247.2L1163.7 244.7L1158.3 242.7L1156.5 246.1L1152.1 246.4L1148.0 243.0L1143.1 243.6L1142.6 239.1L1138.6 234.5L1140.4 232.2L1140.4 228.7L1137.2 227.6L1137.7 224.7L1139.9 222.3L1144.9 222.3L1150.3 222.0L1154.3 220.2L1150.7 217.9L1146.7 218.5L1143.5 218.8L1140.4 220.8L1137.7 222.9L1136.8 220.5L1132.3 219.1L1129.6 219.4L1127.4 220.5L1129.1 223.5L1126.9 224.7L1125.1 222.9L1122.9 221.7L1121.5 224.7L1123.3 228.2L1123.8 230.5L1122.4 231.1L1125.6 233.4L1128.2 235.1L1127.8 237.9L1125.6 236.2L1124.2 238.5L1124.2 244.1L1122.4 244.1L1121.1 245.0L1119.3 241.9L1117.5 243.0L1115.2 237.9L1116.1 235.1L1121.1 234.5L1116.6 233.9L1113.9 231.6L1111.2 227.6L1109.4 225.2L1107.1 221.7L1107.6 215.8L1106.2 212.8L1103.1 209.7L1098.6 206.7L1094.1 203.6L1090.1 200.5L1086.9 195.4L1085.1 192.3L1082.4 195.4L1081.1 192.3L1081.5 189.7L1078.4 189.7L1075.2 192.3L1075.2 197.3L1076.6 200.5L1081.1 203.3L1082.9 208.5L1086.5 212.2L1092.3 213.4L1091.4 215.8L1095.9 218.2L1100.8 221.1L1103.1 224.1L1100.8 225.2L1097.3 222.0L1094.6 225.2L1096.8 229.3L1094.6 232.2L1092.3 236.2L1090.3 236.5L1091.4 232.2L1092.3 227.6L1090.5 224.7L1087.4 223.5L1085.1 220.8L1082.9 219.4L1078.4 217.0L1074.8 214.0L1072.1 210.3L1069.4 209.7L1067.2 206.7L1066.3 203.6L1065.4 200.5L1061.8 198.6L1059.1 198.0L1056.4 201.1L1053.7 201.7L1050.5 204.8L1047.0 206.1L1042.5 204.2L1038.9 203.6L1035.7 204.8L1033.5 207.9L1034.4 213.4L1029.9 216.7L1024.0 219.4L1021.3 224.1L1018.7 227.6L1020.9 231.6L1017.8 234.5L1016.9 237.9L1013.3 240.2L1010.1 243.6L1004.3 243.6L1000.2 243.6L996.2 246.6L992.6 245.2L991.3 242.4L988.6 240.8L984.1 241.6ZM986.8 60.7L990.8 60.7L989.9 68.3L987.7 64.5ZM1064.0 120.0L1068.1 119.6L1068.5 123.2L1065.8 123.6ZM1101.3 105.4L1104.4 100.4L1105.3 104.6L1102.6 107.9ZM988.1 97.8L992.2 95.3L991.3 99.5L988.1 101.2ZM989.9 102.9L992.6 102.9L993.5 107.1L990.8 106.2ZM1005.2 90.1L1007.9 90.1L1007.0 92.7ZM1012.8 76.6L1015.1 76.6L1014.6 83.0L1012.8 81.2ZM1119.3 91.4L1122.0 90.5L1122.9 92.7L1120.6 93.1ZM975.1 149.5L973.7 145.2L976.9 142.2L977.3 137.7L975.1 135.5L975.1 130.2L980.9 129.4L981.4 126.3L982.7 123.2L987.2 121.6L992.2 122.4L994.8 127.1L994.8 129.4L992.6 132.5L992.6 139.2L991.7 144.4L988.6 145.9L984.1 148.1L979.6 150.2ZM1329.0 672.8L1332.6 672.1L1336.7 674.9L1335.3 679.0L1331.3 678.3L1329.0 676.2ZM1069.4 124.7L1073.9 125.1L1073.0 127.1L1069.4 126.3ZM1241.3 475.1L1244.1 480.8L1246.4 488.2L1246.6 492.0L1243.7 491.5L1242.8 497.6L1241.9 503.2L1239.6 510.3L1237.4 517.5L1235.2 524.3L1233.4 530.1L1231.6 536.5L1228.0 538.0L1223.5 540.0L1219.0 538.0L1216.3 533.1L1214.9 527.2L1214.3 522.3L1215.8 518.5L1218.5 513.7L1219.4 508.9L1217.6 503.2L1217.6 498.5L1219.9 494.8L1224.4 493.4L1228.0 492.0L1232.0 488.7L1234.7 485.4L1235.6 482.2L1238.7 480.4L1239.2 477.1ZM1093.7 113.6L1096.8 105.4L1095.9 111.2ZM1268.2 517.0L1270.6 517.3L1270.2 519.2L1268.4 518.7ZM1277.6 513.2L1279.6 513.2L1279.4 515.1L1277.6 514.9ZM1117.9 97.0L1121.1 94.0L1124.2 95.3L1121.5 97.8ZM1056.8 219.4L1061.3 217.3L1064.0 221.7L1063.1 229.3L1060.4 230.5L1057.7 229.9L1058.2 222.9ZM1075.7 236.2L1079.7 235.1L1085.1 235.9L1090.1 234.8L1088.3 239.1L1087.8 243.6L1084.7 242.4L1081.1 240.8L1076.6 238.5ZM1259.4 363.7L1263.0 363.5L1264.8 364.4L1261.7 365.3ZM1196.1 446.9L1197.4 447.5L1197.6 450.0L1196.5 449.4ZM1069.4 118.4L1073.0 116.4L1076.6 115.6L1076.6 119.2L1075.2 122.4L1073.9 124.3L1070.8 122.4ZM1436.4 359.8L1437.7 360.3L1437.3 366.7L1435.9 368.5L1435.9 363.9ZM1440.9 388.6L1442.0 389.5L1441.1 390.4ZM1349.7 401.7L1350.6 402.1L1350.1 403.0ZM1532.5 521.4L1534.7 521.9L1538.8 518.0L1544.2 515.6L1548.7 515.6L1554.5 512.7L1560.3 511.8L1564.8 509.4L1568.9 504.2L1568.9 499.4L1572.0 496.6L1575.2 500.4L1575.6 496.2L1579.2 495.2L1579.7 491.0L1582.8 487.8L1586.0 485.4L1590.0 484.1L1594.0 487.3L1595.8 489.2L1599.4 488.7L1602.1 488.9L1602.6 484.1L1604.8 479.9L1607.5 477.1L1612.0 476.2L1615.6 475.8L1615.6 472.1L1619.6 474.4L1625.0 475.3L1630.0 475.8L1634.0 475.3L1634.0 478.1L1630.9 481.3L1630.4 485.4L1628.2 488.7L1632.2 492.0L1636.7 494.3L1641.2 497.6L1645.7 499.9L1650.2 501.8L1652.9 500.4L1655.1 494.8L1656.5 489.2L1655.6 483.6L1657.4 478.1L1658.3 472.1L1660.1 469.3L1661.9 474.4L1663.2 478.1L1665.0 482.7L1666.4 486.4L1669.9 486.8L1672.6 490.1L1673.5 495.2L1675.8 499.9L1676.7 506.1L1680.3 509.4L1684.8 512.2L1688.4 515.1L1690.6 519.9L1692.9 523.8L1697.3 525.3L1697.8 529.6L1701.8 532.1L1705.4 536.5L1707.7 541.0L1708.1 547.0L1709.5 552.1L1709.9 556.2L1708.1 562.4L1707.2 567.6L1705.4 573.9L1701.8 577.6L1699.6 582.5L1697.8 587.4L1695.1 593.4L1693.8 599.0L1693.5 602.9L1688.4 604.6L1683.9 605.8L1679.8 609.2L1677.6 612.1L1674.0 609.2L1671.3 607.5L1669.5 606.9L1665.0 610.1L1659.6 608.1L1654.7 606.9L1650.6 605.2L1647.9 600.1L1646.6 594.5L1643.9 592.3L1640.7 592.3L1642.1 588.5L1639.8 584.6L1639.4 589.6L1635.4 590.1L1634.9 586.3L1637.6 583.0L1639.4 578.2L1638.1 578.2L1635.4 581.9L1632.2 585.2L1630.4 588.5L1628.2 586.8L1626.4 582.5L1623.2 578.7L1621.0 574.4L1616.5 572.8L1610.7 570.2L1606.2 570.7L1599.4 571.0L1592.7 573.4L1586.0 574.4L1581.5 576.6L1577.0 578.7L1574.7 583.0L1568.9 583.6L1563.5 582.7L1558.6 583.3L1554.5 585.7L1550.0 589.0L1544.6 589.0L1540.6 587.9L1537.0 585.2L1536.5 581.4L1539.2 579.8L1539.7 572.8L1538.3 567.6L1536.5 562.4L1536.1 558.7L1534.3 553.6L1532.5 549.1L1529.8 543.5L1530.7 541.0L1529.4 536.0L1530.7 532.1L1531.2 527.2L1530.7 524.8ZM1633.6 592.3L1638.1 592.3L1640.3 593.7L1637.2 594.8L1633.6 594.0ZM1605.7 472.3L1609.8 472.1L1610.7 473.5L1606.6 474.4ZM1632.7 483.6L1634.9 483.6L1634.5 485.7L1632.7 485.4ZM1666.4 615.0L1667.2 615.3L1667.2 617.9L1666.1 617.3ZM1683.9 616.2L1686.1 617.0L1685.2 619.7L1684.3 618.5ZM1707.2 536.0L1708.8 537.0L1707.7 540.5ZM1492.5 428.6L1497.0 428.2L1499.3 434.0L1496.1 433.6ZM1503.3 432.7L1506.4 434.0L1504.7 435.4ZM1455.7 414.7L1459.7 417.9L1457.9 418.3ZM1462.9 425.5L1466.0 429.1L1464.2 428.6ZM1450.3 408.4L1453.4 409.8L1451.2 410.2ZM1509.6 415.2L1512.3 412.0L1515.4 413.4L1518.6 414.0L1519.9 410.2L1524.4 407.7L1527.6 406.6L1531.6 401.2L1534.7 399.0L1538.8 396.3L1541.5 393.1L1544.2 389.5L1546.4 391.3L1548.7 394.0L1552.3 396.3L1555.4 397.6L1551.8 399.9L1550.0 402.1L1548.2 405.3L1549.1 409.3L1550.0 412.0L1553.6 416.1L1550.0 417.0L1548.2 420.6L1547.8 424.1L1544.6 426.8L1542.8 429.5L1543.3 434.5L1541.0 438.5L1535.2 439.4L1534.3 436.3L1529.8 435.8L1527.6 434.9L1522.6 436.7L1518.6 434.5L1515.0 434.0L1514.1 428.2L1511.8 424.6L1510.0 422.3L1510.0 419.2ZM1816.4 501.3L1820.4 500.1L1822.7 502.7L1819.1 504.6L1816.4 503.7ZM1822.7 496.6L1828.1 494.8L1827.2 497.6L1823.1 498.3ZM1512.3 329.3L1516.8 328.8L1518.6 330.7L1516.3 335.0L1512.3 337.8L1508.2 335.9L1508.2 332.6ZM1648.8 215.8L1650.2 211.5L1648.4 209.1L1651.1 204.8L1654.7 204.8L1656.0 197.3L1656.9 191.3L1660.1 194.2L1664.6 198.6L1669.0 200.8L1672.6 198.6L1672.2 202.3L1674.4 204.5L1670.4 206.7L1666.8 207.0L1663.7 212.8L1660.1 210.9L1656.9 209.1L1653.3 209.7L1650.6 209.7L1652.4 212.2L1653.8 214.0L1651.1 214.6ZM1608.0 258.4L1612.0 258.4L1615.1 257.1L1619.6 256.3L1623.2 254.9L1627.3 254.9L1626.8 257.4L1627.3 260.6L1630.0 261.4L1632.2 257.9L1634.5 255.7L1636.7 255.2L1640.7 255.2L1643.0 252.7L1643.7 254.9L1645.2 251.9L1647.9 253.0L1648.4 250.2L1651.1 251.9L1652.7 249.1L1651.5 245.8L1653.3 241.9L1653.3 236.2L1655.6 233.9L1657.4 228.7L1657.8 226.4L1656.0 222.3L1655.1 217.0L1652.9 215.8L1652.9 218.8L1650.2 217.9L1648.8 221.1L1648.4 225.2L1648.8 228.7L1646.6 233.4L1643.4 237.4L1640.7 240.8L1636.7 239.1L1634.9 241.3L1634.0 243.0L1631.3 246.4L1630.9 249.1L1627.7 249.7L1624.1 249.7L1619.6 250.2L1616.0 250.5L1612.9 253.5L1609.8 255.7ZM1492.5 451.6L1496.1 447.8L1500.6 447.8L1505.1 449.4L1508.2 451.4L1511.8 451.8L1516.3 452.3L1518.1 449.8L1521.3 451.2L1525.8 452.1L1527.6 455.7L1532.0 455.5L1534.3 456.1L1533.8 460.0L1528.5 458.4L1523.1 458.4L1517.7 458.0L1511.8 455.9L1507.3 455.9L1502.9 455.5L1498.4 454.1L1497.9 452.3ZM1586.8 262.2L1590.0 260.9L1590.0 262.2L1587.3 262.8ZM1674.0 199.8L1677.6 197.3L1675.8 201.1ZM1680.3 195.4L1688.4 191.0L1687.0 192.9L1681.6 196.7ZM1692.0 189.1L1696.0 186.5L1695.1 188.4ZM1717.1 160.2L1721.1 156.0L1719.8 159.5ZM1706.3 179.3L1708.6 177.3L1708.1 179.3ZM1608.0 259.0L1611.6 260.6L1612.5 264.9L1610.7 269.7L1608.9 272.8L1607.1 274.2L1604.8 272.8L1605.3 268.1L1606.6 265.4L1603.0 265.4L1602.1 262.8L1603.9 260.9L1606.2 259.3ZM1534.3 457.7L1539.2 458.0L1538.8 460.2L1537.0 460.7L1534.7 458.9ZM1541.0 458.6L1544.2 458.6L1543.3 461.1L1541.0 460.9ZM1544.6 458.9L1549.6 457.5L1554.5 458.4L1554.1 460.2L1549.1 461.1L1545.1 461.6ZM1558.6 458.9L1563.5 458.9L1570.2 458.4L1572.5 458.4L1571.1 460.2L1565.7 460.9L1561.2 460.7L1558.6 460.7ZM1554.5 463.4L1559.0 463.2L1562.6 465.7L1560.3 467.3L1555.9 465.0ZM1574.7 467.5L1578.3 463.4L1582.4 461.6L1587.3 459.1L1591.8 458.9L1588.6 461.6L1583.7 463.9L1579.7 466.8ZM1575.2 458.4L1579.2 458.0L1581.9 457.7L1579.7 459.3L1575.2 459.5ZM1584.6 455.7L1589.5 455.2L1588.2 456.8L1585.1 456.8ZM1608.4 455.2L1611.6 453.4L1611.3 456.6L1609.3 457.1ZM1561.7 336.4L1565.7 335.9L1568.9 336.4L1569.8 342.1L1568.9 346.8L1566.2 348.6L1565.7 352.8L1566.6 356.1L1569.3 357.0L1572.5 357.9L1576.5 358.2L1577.6 363.9L1574.3 362.3L1571.1 360.5L1568.0 358.4L1565.7 359.3L1563.0 358.6L1561.7 355.6L1563.0 354.2L1559.9 353.5L1558.6 349.1L1558.1 347.2L1560.3 346.8L1560.8 341.1ZM1526.2 452.5L1532.0 452.1L1531.6 453.2L1526.7 453.4ZM1592.7 412.5L1594.9 411.1L1594.9 414.7L1598.1 414.3L1596.3 417.4L1598.5 419.7L1594.5 419.2L1595.8 424.6L1594.0 422.3L1593.1 417.4ZM1594.5 434.5L1599.4 433.6L1603.9 434.3L1608.0 436.3L1603.9 436.7L1598.5 436.3L1594.5 436.5ZM1586.0 434.9L1590.0 434.9L1591.3 437.2L1588.2 438.3L1586.0 436.7ZM1578.3 428.6L1582.8 429.1L1586.0 429.1L1581.5 429.8ZM1601.7 456.1L1603.5 456.4L1602.1 457.3ZM1622.3 447.1L1625.0 446.2L1625.0 450.7L1622.8 451.6ZM1615.6 445.7L1617.8 444.8L1616.9 447.5ZM1605.3 421.4L1609.3 422.3L1606.6 422.8ZM1605.7 428.6L1608.0 429.5L1605.3 430.4ZM1669.7 359.8L1670.8 359.3L1670.4 360.9ZM1583.7 376.8L1586.8 380.4L1587.7 384.9L1588.2 389.5L1586.4 392.2L1584.2 394.0L1583.3 395.8L1582.4 392.6L1579.2 393.1L1577.0 391.3L1577.9 387.7L1574.3 387.2L1571.6 387.2L1568.4 389.9L1568.0 387.7L1569.3 384.9L1572.5 382.7L1576.1 382.2L1578.3 382.7L1580.6 380.4L1582.4 380.0ZM1686.1 446.2L1689.3 445.7L1693.8 443.5L1697.8 445.5L1700.5 443.3L1700.9 439.9L1704.1 440.1L1703.6 443.5L1700.5 446.2L1696.9 448.7L1692.9 449.1L1689.3 448.5ZM1756.6 513.2L1761.1 515.6L1765.6 519.4L1770.1 523.8L1767.9 524.0L1763.4 520.9L1758.9 517.5L1756.6 514.6ZM1608.0 424.6L1612.0 422.6L1615.1 422.8L1619.2 424.1L1622.3 424.8L1622.8 428.2L1622.3 431.3L1624.6 433.6L1626.4 436.1L1630.0 434.0L1633.1 431.1L1636.7 428.9L1639.8 428.2L1644.3 430.0L1648.8 431.8L1653.3 432.7L1657.8 434.5L1663.2 436.3L1667.7 438.3L1671.3 440.8L1674.9 443.5L1675.8 445.7L1680.3 447.8L1683.4 449.4L1683.9 451.2L1680.7 451.4L1682.5 454.8L1685.7 457.5L1687.9 461.6L1691.5 463.9L1694.6 467.1L1697.3 468.0L1695.1 469.1L1691.5 467.7L1687.0 467.1L1683.9 466.4L1680.3 463.4L1677.1 460.2L1674.4 457.1L1669.9 455.2L1666.8 456.1L1664.1 458.4L1662.3 461.1L1660.1 462.5L1655.6 462.3L1653.3 462.0L1648.8 458.4L1645.2 457.5L1642.1 458.6L1638.5 458.9L1640.7 454.8L1643.4 453.4L1643.9 451.6L1640.7 447.1L1639.0 444.4L1635.4 443.0L1630.9 441.2L1627.3 441.0L1623.2 439.0L1620.1 437.2L1617.4 439.4L1616.5 436.3L1612.9 434.0L1616.5 433.6L1620.1 432.2L1618.3 430.9L1614.2 431.1L1611.6 428.2L1608.4 427.3ZM1696.9 432.7L1701.4 434.5L1705.4 438.1L1707.7 441.7L1706.3 442.6L1704.1 439.0L1700.5 435.8L1697.3 433.8ZM1795.7 585.7L1798.0 588.5L1801.5 590.7L1804.2 594.5L1805.6 599.0L1807.8 597.9L1810.1 598.4L1810.1 602.4L1814.1 604.9L1817.3 605.2L1820.9 603.5L1821.8 604.6L1820.9 608.6L1819.1 612.1L1815.0 613.3L1814.6 615.6L1815.0 618.5L1811.9 623.2L1807.8 626.8L1804.7 625.3L1806.5 620.9L1806.9 617.3L1803.8 615.6L1800.7 613.5L1802.4 611.5L1804.2 609.8L1805.1 605.2L1804.2 601.8L1802.9 597.9L1801.1 594.5L1798.4 591.2L1797.1 588.5ZM1795.7 620.3L1797.5 623.2L1801.1 622.6L1802.9 624.4L1802.4 628.0L1800.7 631.1L1798.9 634.1L1796.2 637.2L1797.5 640.0L1793.9 640.9L1790.3 643.4L1789.0 647.2L1787.6 651.0L1786.3 653.9L1782.7 657.5L1779.1 658.5L1775.9 658.1L1772.8 656.2L1768.3 655.2L1767.9 651.7L1770.1 647.8L1774.2 644.0L1776.8 641.5L1781.3 639.0L1784.9 635.9L1787.6 633.5L1789.4 630.5L1790.8 627.4L1792.6 623.2L1793.9 621.5ZM1546.4 383.1L1551.4 379.0L1555.9 373.6L1557.2 369.9L1555.4 374.0L1552.3 378.1L1548.2 382.7ZM1593.6 299.0L1596.3 295.7L1594.9 298.0ZM1600.8 288.4L1602.6 287.4L1601.2 289.1ZM1605.7 277.6L1606.8 277.8L1606.2 278.6ZM1657.8 129.4L1661.9 134.7L1663.7 143.0L1663.2 150.2L1665.5 160.9L1668.1 166.4L1663.7 165.8L1660.5 174.6L1662.8 181.2L1664.6 185.8L1661.0 183.2L1658.3 187.8L1657.4 182.6L1657.8 175.9L1658.7 167.8L1658.3 159.5L1656.9 151.7L1657.4 143.0L1656.9 136.2ZM243.8 482.2L246.5 482.2L246.1 483.6L243.8 483.4ZM247.4 483.8L249.7 484.3L248.3 484.8ZM1615.1 259.0L1619.6 258.4L1622.8 256.5L1625.0 259.3L1623.2 261.7L1620.1 261.1L1617.4 265.2L1615.1 262.8ZM1714.4 445.3L1718.0 447.5L1720.7 451.6L1718.5 451.6L1715.3 448.0ZM1722.9 451.6L1727.4 454.3L1725.2 453.9ZM1727.4 457.1L1731.9 455.2L1737.8 458.9L1734.2 458.0ZM1736.9 463.0L1742.3 463.9L1740.9 465.7L1737.3 465.0ZM1741.4 458.9L1744.5 463.0L1743.2 463.9L1741.4 460.7ZM1744.5 467.5L1749.0 468.9L1746.8 469.8ZM1378.4 377.2L1380.7 377.7L1384.7 382.7L1387.4 388.1L1386.5 392.2L1382.0 394.4L1379.3 393.1L1378.4 387.2L1378.9 381.3ZM1772.8 659.4L1775.5 660.1L1774.6 662.4L1772.4 661.4ZM225.9 640.3L228.6 640.0L228.1 641.8ZM1558.1 417.4L1562.6 415.2L1568.0 416.3L1572.5 416.7L1577.0 417.0L1581.5 413.6L1582.4 414.7L1579.2 419.2L1573.8 419.7L1568.0 419.0L1563.5 419.0L1559.9 419.7L1559.0 423.2L1561.7 425.5L1565.7 425.0L1570.7 424.6L1574.3 425.3L1571.6 427.7L1567.5 428.6L1565.3 429.8L1568.9 434.0L1569.8 436.3L1572.5 439.0L1573.4 441.7L1570.7 443.5L1568.0 441.7L1565.7 442.1L1564.4 437.6L1563.0 433.6L1560.3 434.3L1560.8 439.0L1560.8 445.7L1558.1 446.2L1556.5 445.3L1556.8 439.0L1556.3 436.3L1553.6 433.6L1555.4 430.0L1556.3 426.4L1558.1 421.9ZM1448.1 395.8L1452.5 397.2L1457.9 397.6L1460.2 401.2L1463.3 403.9L1467.8 407.1L1471.0 410.2L1475.0 412.5L1479.0 414.7L1482.6 418.3L1485.3 420.6L1484.9 425.5L1488.9 428.2L1490.7 431.3L1496.1 434.5L1495.7 439.0L1495.7 443.5L1495.2 447.1L1492.5 446.6L1489.8 446.6L1488.0 443.5L1483.5 441.7L1479.5 438.5L1476.4 434.5L1473.7 431.3L1471.0 426.4L1468.3 421.9L1465.1 419.2L1463.8 414.7L1460.2 410.7L1456.6 407.1L1453.4 403.9L1449.4 399.9ZM1565.7 303.5L1567.8 305.5L1566.2 309.9L1564.8 315.3L1562.8 320.1L1560.3 316.7L1559.4 313.3L1561.2 308.9L1563.5 305.0ZM1669.9 621.5L1673.5 622.6L1678.0 624.1L1682.5 622.6L1686.1 622.6L1686.1 629.2L1684.8 634.7L1682.5 636.6L1679.4 639.0L1675.8 638.4L1673.5 634.7L1672.2 630.5L1669.9 625.0ZM1768.3 487.8L1771.0 489.2L1770.6 492.0L1768.8 491.5ZM1771.0 493.8L1773.7 495.2L1772.4 496.6ZM1775.5 501.3L1776.8 501.8L1775.9 502.5ZM1780.0 509.9L1781.3 510.3L1780.4 511.0ZM1578.3 364.4L1582.8 364.4L1584.2 370.4L1581.5 370.8L1580.1 367.2ZM1578.8 369.5L1581.5 371.3L1582.4 374.9L1580.6 375.4ZM1568.0 367.6L1572.9 369.0L1570.7 373.6L1568.0 373.1ZM1572.5 371.7L1574.7 373.6L1572.9 380.0L1570.2 377.2L1572.0 374.5ZM1574.3 373.6L1577.0 370.4L1577.0 374.5L1574.3 378.1ZM1577.0 375.4L1579.7 375.9L1578.3 377.7ZM1560.8 360.3L1564.4 360.3L1565.7 364.4L1563.9 365.8L1562.1 362.6ZM1573.8 364.9L1577.0 365.8L1575.2 367.2Z"/><clipPath id="lc"><use href="#landp"/></clipPath>
<g id="world"><use href="#landp" fill="#0a0a0a"/><path d="M386.7 -20.4L386.7 79.4L394.8 81.2L401.9 89.2L407.3 86.5L412.7 85.6L416.8 90.9L420.8 96.1L425.8 106.2L428.0 111.2L436.1 116.8L435.2 124.0M466.2 167.8L592.4 167.8L594.2 165.8L602.3 170.5L609.0 173.9L617.5 174.6M640.5 184.5L644.9 187.8L649.4 192.3L649.9 206.7M665.2 205.4L675.0 203.0L677.3 199.2L683.1 194.2L698.8 194.2L702.0 191.6L704.2 186.5L709.2 178.3L713.2 178.9L715.5 180.6L715.5 189.7L717.3 192.3L719.1 194.8M494.0 266.5L504.8 265.4L521.4 272.8L534.0 272.8L534.0 270.2L541.6 270.2L548.4 276.5L550.6 281.7L556.5 284.8L559.6 280.7L564.5 280.7L569.5 288.4L573.1 292.4L574.9 298.0L583.4 300.5M605.9 355.2L606.8 352.4L608.1 347.7L613.5 347.7L609.5 342.6L611.3 339.7L619.3 339.7L619.3 348.6L623.4 349.6M619.3 339.7L623.4 336.4M615.3 358.4L618.4 355.6L619.3 352.8L622.5 357.9L625.6 360.3M619.3 352.8L623.8 349.6M626.1 362.1L630.6 358.4L634.6 357.9L638.7 353.8L645.8 352.8M635.1 370.8L639.6 371.3L644.0 371.7M647.6 384.5L647.6 380.0L649.0 377.7M697.5 330.7L697.9 335.5L697.5 338.8M672.3 381.8L673.2 385.4L670.1 388.6M699.7 367.6L694.4 370.8L692.1 379.0L694.8 383.1L696.6 389.5L705.1 389.5L708.3 393.5L716.8 393.1L715.5 400.8L717.7 405.7L719.1 415.6M719.1 415.6L706.5 413.4L708.3 417.9L705.6 421.0L706.0 439.9M719.1 415.6L722.2 417.6L728.0 416.1L732.5 412.5L735.2 410.2L731.6 402.6L737.9 403.0L746.0 400.8L747.4 397.6M750.5 383.1L744.7 394.0L747.4 397.6L751.4 400.8L750.9 410.7L755.9 415.6L764.0 412.0L768.5 412.5L774.8 410.7L782.4 411.1L787.8 402.6M755.9 415.6L762.6 405.7L763.1 397.6L763.5 394.5M777.5 394.9L775.7 400.8L777.5 405.3L774.8 410.7M666.1 414.7L671.0 417.4L677.3 419.7L681.8 421.4L681.8 425.5L689.4 426.8L692.6 431.8L705.1 433.1L706.0 439.9M659.3 436.3L659.3 440.8L665.2 443.5L667.9 436.3L675.5 432.7L680.4 428.2L681.8 425.5M706.0 439.9L702.0 439.9L692.6 444.4L691.2 450.3L687.6 454.3L692.1 463.4L695.7 466.1L702.9 463.9L702.9 470.7L707.8 470.7L711.4 477.6L710.1 482.7L708.3 492.0L707.8 500.9L703.8 504.6M707.8 470.7L711.9 471.2L720.4 465.7L726.2 464.8L726.7 473.0L730.7 477.1L737.9 479.9L742.4 482.2L748.3 483.6L749.6 495.2L757.7 495.2L758.1 499.9L761.3 503.2L760.4 508.0L758.6 513.7L760.4 522.8M707.8 500.9L711.0 509.9L713.7 519.9L715.0 526.2L718.2 526.2L722.2 521.4L731.2 526.2L738.4 523.3M738.4 523.3L742.9 510.8L750.5 509.4L758.6 513.7M738.4 523.3L746.0 531.1L755.0 536.0L761.3 540.0L756.8 547.5L766.7 549.6L774.8 540.0L776.1 532.6L771.2 532.1L769.8 523.8L760.4 522.8M774.8 540.0L778.3 546.5L778.3 548.0L769.4 553.6L761.3 563.4L758.6 575.5L757.7 583.0M761.3 563.4L768.5 566.5L774.8 570.2L781.0 576.6L780.1 581.9M718.2 526.2L719.1 527.2L712.8 534.6L712.3 547.0L706.5 559.8L703.8 568.6L705.6 579.8L706.5 584.6L702.9 594.5L700.6 602.9L701.5 609.8L697.9 617.3L697.0 629.2L697.9 640.3L699.7 647.8L697.0 659.4L694.4 670.8L690.3 681.1L694.8 688.2L696.6 695.4L707.8 696.5L712.8 697.9M711.9 700.2L711.9 717.3M980.0 213.4L983.2 212.2L990.4 213.1L992.2 215.2L989.0 219.9L988.6 226.4L986.3 226.7L988.6 231.1L987.2 236.2L986.3 239.1L986.8 240.8M1011.9 204.5L1016.9 207.3L1023.1 207.9L1027.6 209.7L1034.4 210.0M1031.5 153.1L1033.9 155.3L1038.9 160.9L1041.6 159.8L1046.1 164.0L1048.7 164.7L1056.8 167.8L1054.1 177.3L1047.4 186.5L1051.4 188.4L1051.4 198.6L1053.7 201.7M1035.3 151.0L1039.3 151.0L1046.5 153.8L1047.4 155.6L1048.7 158.4L1047.4 160.2L1048.7 164.7M1052.3 137.0L1051.4 144.4L1047.0 147.7L1047.4 155.6M1058.9 124.7L1062.2 125.5L1064.7 125.5M1083.8 132.5L1084.7 140.0L1086.3 146.6L1087.4 153.8L1084.2 153.8L1074.3 158.8L1082.0 169.5L1078.4 177.9L1066.9 177.6L1063.1 177.6L1054.1 177.3M1047.4 186.5L1050.5 185.2L1057.7 184.8L1061.8 184.5L1066.9 181.9L1066.9 177.6M1066.9 181.9L1074.6 181.2L1081.5 184.2L1081.1 190.3M1081.5 184.2L1092.3 182.2L1096.1 170.9L1087.4 167.8L1082.0 169.5M1087.4 153.8L1095.9 158.1L1104.7 164.4L1121.3 167.1L1119.5 171.9L1109.8 173.2L1104.4 175.9L1096.1 174.3L1092.3 182.2M1104.7 164.4L1096.1 170.9M1108.9 128.2L1122.4 129.0L1125.6 131.7L1127.4 141.5L1124.2 144.4L1126.0 150.2L1128.2 154.9L1121.3 167.1M1114.5 121.6L1122.4 124.7L1122.4 129.0M1125.6 131.7L1135.9 124.7L1139.5 118.4L1146.7 114.8L1144.4 104.6L1143.1 103.3L1145.8 87.0M1114.5 115.2L1131.8 112.4L1139.5 118.4M1129.1 100.8L1133.6 99.5L1143.1 103.3M1146.7 114.8L1158.8 119.2L1159.2 131.7L1166.9 136.2L1160.6 138.5L1162.8 145.9L1157.2 151.7L1142.2 148.8L1126.0 150.2M1162.8 145.9L1174.5 148.1L1179.5 158.1L1190.7 161.6L1200.1 163.7L1198.3 175.6L1192.0 177.6L1191.6 180.6M1119.5 171.9L1131.8 176.3L1139.5 172.9L1146.7 191.3L1146.7 192.3L1153.2 192.3M1139.5 172.9L1143.5 171.6L1150.9 174.9L1154.8 185.2L1150.0 187.8L1146.7 191.3M1092.3 182.2L1094.6 184.5L1099.3 188.1L1104.9 188.4L1111.0 186.8L1115.2 185.2L1122.9 174.9L1119.5 171.9M1081.1 191.0L1088.7 191.3L1094.1 184.5M1104.9 188.4L1105.3 195.1L1108.0 200.5L1106.2 203.6L1102.9 209.7M1099.3 188.1L1091.0 192.9L1092.8 199.2L1099.1 206.7M1105.3 195.1L1111.0 186.8M1115.2 185.2L1116.6 195.4L1122.0 199.2L1120.6 207.9L1123.1 216.7L1112.5 218.5L1109.8 226.4M1122.0 199.2L1132.3 202.3L1141.3 199.5L1148.2 202.0M1123.1 216.7L1130.0 215.5L1138.4 214.6L1139.5 216.7L1137.0 220.2M1138.4 214.6L1143.1 212.8L1145.8 212.8M1106.9 213.7L1112.5 218.5M1110.3 209.4L1117.7 211.2L1120.6 210.9M1128.5 24.7L1126.2 0.1L1112.5 -13.4L1115.7 -16.6L1135.4 -15.9L1136.8 -24.3L1145.8 -26.9L1150.3 -13.4L1150.0 -0.5L1154.8 3.0L1150.7 12.4L1155.2 25.8L1153.4 35.4L1157.2 42.7L1161.9 54.8L1144.9 77.1M1071.4 91.8L1075.2 82.1L1076.6 72.5L1074.6 66.4L1075.2 53.8L1082.9 39.1L1085.1 20.8L1093.7 5.4L1101.5 -7.2L1112.5 -13.4M1150.3 -13.4L1158.6 -23.0M987.2 123.6L984.1 127.8L987.2 130.5L991.7 130.9M1199.7 204.2L1216.7 208.2L1225.3 209.7L1228.6 213.4L1235.2 217.6L1238.3 213.7M1206.6 215.8L1215.2 218.2L1222.1 217.0L1228.6 213.4M1215.2 218.2L1216.3 224.1L1221.2 226.4L1228.9 231.1L1235.6 226.4L1239.4 233.7M1222.1 217.0L1224.4 220.8L1228.9 231.1M1182.4 248.6L1184.6 242.7L1193.8 243.6L1210.2 240.8L1221.2 240.8L1217.6 228.2L1221.2 226.4M1177.7 263.3L1181.3 261.7L1184.4 257.4L1181.7 254.9M1181.3 261.7L1185.3 267.6L1194.3 261.9L1204.2 256.3L1205.1 244.7L1210.2 240.8M1176.8 282.2L1179.5 273.9L1179.7 267.0L1177.7 263.3M1173.8 273.4L1176.8 282.2M1177.0 283.0L1182.1 283.8L1188.4 279.6L1186.2 271.8L1195.2 269.2L1194.3 261.9M1195.2 269.2L1201.5 269.7L1209.1 273.9L1220.8 283.8L1229.1 284.3L1234.3 279.1L1235.6 279.6M1229.1 284.3L1233.1 284.8L1237.4 287.4M1221.2 240.8L1223.9 247.5L1227.5 252.4L1223.9 258.4L1227.1 263.8L1234.3 274.4L1235.6 279.6L1238.1 279.9M1238.3 233.9L1235.6 226.4M1262.1 239.9L1269.3 236.5L1276.9 234.8L1286.4 239.1L1294.7 243.8L1294.4 251.3L1293.1 256.8L1291.7 260.3L1293.5 271.8L1297.6 274.2L1293.5 280.4L1302.1 282.7L1303.9 294.0L1299.8 298.0L1296.7 304.0M1293.5 280.4L1318.0 280.2L1317.8 274.9L1325.4 271.0L1331.3 269.7L1335.8 261.9L1334.0 258.2L1339.4 256.8L1341.2 248.0L1356.4 240.5M1294.7 243.8L1299.4 251.3L1309.7 245.8L1318.7 239.9L1324.5 241.0L1332.2 238.5L1341.6 236.8L1340.7 243.6L1356.4 240.5L1352.4 233.4M1255.6 214.3L1265.7 212.5L1271.5 217.0L1276.5 216.7L1283.2 207.9L1298.0 218.2L1300.3 224.7L1309.3 230.8L1318.7 239.9M1271.5 217.0L1271.5 194.2L1282.8 190.7L1294.0 198.0L1311.5 202.3L1316.9 206.7L1316.5 212.8L1325.4 218.2L1338.5 211.2L1338.9 209.1L1350.1 210.3L1355.5 205.4L1380.2 211.5L1380.2 212.5M1325.4 218.2L1325.9 224.1L1336.7 223.5L1337.1 218.8L1348.3 219.6L1350.8 227.9L1336.7 227.0L1331.3 223.5M1350.8 227.9L1352.4 233.4L1356.9 239.6M1350.8 227.9L1365.0 219.1L1380.2 212.5M1324.5 241.0L1327.2 235.1L1322.7 227.6L1331.3 223.5M1230.7 197.3L1233.4 190.3L1236.9 188.4M1240.5 185.2L1237.4 178.6L1228.9 171.9L1233.4 157.7L1248.2 148.4L1265.7 153.8L1283.2 153.5L1297.1 155.3L1289.5 146.6L1294.0 132.5L1312.9 129.0L1329.9 120.8L1339.8 130.9L1349.7 132.1L1365.4 128.2L1379.3 154.9L1394.6 153.8L1402.2 163.7L1412.3 166.8M1380.2 212.5L1380.2 194.8L1390.6 192.9L1393.0 179.9L1404.9 178.9L1412.3 166.8M1412.3 166.8L1414.4 166.4L1415.3 170.5L1424.2 175.3L1428.7 183.9L1428.3 192.9L1448.5 198.9L1453.0 208.5L1477.3 209.7L1491.6 215.2L1515.9 208.8L1522.8 202.3L1522.2 194.2L1539.7 191.3L1557.7 183.9L1547.3 176.9L1538.8 175.3L1544.2 161.9M1414.4 166.4L1434.1 155.3L1459.3 162.6L1461.5 148.4L1479.0 151.7L1479.5 156.7L1499.3 158.4L1528.0 163.7L1544.2 161.9L1555.9 158.4L1559.4 142.2L1574.7 135.1L1586.0 140.7L1592.7 162.3L1607.1 168.8L1625.0 172.6L1617.8 194.2L1609.3 194.8L1609.5 203.9L1606.6 210.0M1606.6 210.0L1603.5 206.7L1594.9 215.8L1590.0 214.0L1578.5 225.0M1586.4 237.6L1590.4 234.8L1596.5 232.8M1356.4 240.5L1369.5 250.2L1374.4 256.8L1373.5 266.0L1376.6 266.5L1373.7 273.4L1383.8 278.6M1383.8 278.6L1379.8 285.8L1394.2 293.2L1401.8 297.0L1415.7 298.0L1415.9 290.7L1406.3 290.4L1388.3 278.1L1383.8 278.6M1415.9 290.7L1418.9 293.5L1423.4 288.9L1431.7 290.9L1433.7 295.7L1423.6 296.5L1418.9 293.5M1431.7 290.9L1443.1 284.3L1451.2 282.7L1457.3 288.9L1455.9 291.4M1322.7 309.9L1329.0 308.4L1338.9 307.9L1334.4 297.0L1336.2 289.9L1347.4 284.5L1351.9 277.6L1355.1 273.9L1354.2 265.2L1358.7 267.6L1352.4 262.8L1352.4 254.6L1365.9 253.0L1369.5 250.2M1415.7 298.0L1415.7 304.0L1418.9 308.4L1418.6 313.8L1420.0 319.7M1423.6 296.5L1423.6 303.5L1435.0 305.0L1429.6 309.4L1429.4 311.9L1432.3 314.8L1435.9 319.9L1434.6 325.9M1435.9 319.9L1438.6 318.2L1439.1 309.4L1445.4 303.0L1447.6 296.5L1455.9 291.4L1463.3 291.9L1463.3 300.5L1458.2 306.2L1458.4 310.4L1464.2 313.8L1466.9 315.0L1465.6 318.9L1469.8 322.3L1474.3 321.8M1469.8 322.3L1469.6 327.6L1464.2 330.5L1459.3 335.9L1458.8 339.7L1462.7 346.3L1461.1 351.9L1465.6 358.9L1465.1 368.1L1463.6 374.3M1469.6 327.6L1471.6 328.6L1475.0 331.4L1474.3 341.4L1478.6 337.8L1487.1 337.4L1490.7 341.6L1490.5 345.8L1494.3 349.6L1492.5 356.1L1482.4 356.6L1479.7 359.6L1482.2 368.3M1492.5 356.1L1496.1 355.9L1503.1 354.2L1502.6 365.3L1495.4 368.3L1497.0 372.2L1489.2 374.0M1474.3 321.8L1478.8 317.7L1482.6 317.5L1493.2 313.1L1499.3 315.5L1498.6 317.5L1505.3 321.8M1478.8 317.7L1478.6 323.5L1487.1 327.4L1487.1 332.1L1492.5 335.5L1498.6 343.5L1503.1 354.2M1469.6 392.0L1474.1 395.6L1478.6 392.9M1512.5 411.8L1512.1 416.5L1516.6 417.2L1524.0 414.5L1534.7 414.5L1537.0 408.2L1539.7 402.1L1548.2 402.1M1653.3 432.7L1653.3 452.1L1653.3 462.0M1577.2 463.2L1581.2 461.4L1581.9 463.4M960.7 291.7L980.9 291.7L980.9 286.3L1003.8 271.0L1014.6 268.6L1011.9 256.3L1010.1 252.4M980.9 293.5L998.4 305.0L1028.1 326.4L1034.4 333.6L1039.1 333.3L1046.1 331.9L1073.8 312.4M980.9 293.5L980.9 300.0L966.1 300.0L966.1 312.6L961.6 314.8L961.2 322.8L943.6 322.8M980.9 293.5L990.8 305.0L994.8 345.8L996.2 350.5L978.2 350.5L971.0 352.4L968.3 350.0L965.2 354.0M945.9 347.7L955.8 345.1L965.2 354.0L968.8 364.9L958.5 363.9L952.2 363.5L945.0 365.1M944.5 361.4L950.8 359.3L958.0 360.5L950.8 360.5L944.5 361.4M952.6 371.3L958.5 368.1L958.5 363.9M968.8 364.9L971.9 367.2L979.6 364.9L982.7 371.3L984.1 374.9L985.9 373.8L992.2 372.7L995.3 373.8M960.3 380.4L969.7 375.9L973.7 382.7L973.7 384.0L977.8 387.7L981.8 386.8L983.2 382.7L985.9 380.0L984.1 374.9M968.3 389.9L973.7 384.0M981.8 386.8L986.3 394.7L986.1 401.2M995.3 373.8L998.9 377.2L1007.9 378.1L1006.7 388.6L1005.4 391.3L1007.6 398.1M995.3 373.8L995.3 367.6L1000.2 363.5L1002.3 360.3L1011.0 356.6L1016.9 352.6L1021.1 353.3L1035.7 351.2L1039.1 343.7L1039.1 333.3M1007.9 378.1L1007.4 371.3L1019.3 370.8L1024.0 371.3L1030.8 367.2L1029.2 363.7L1024.3 360.3L1021.1 353.3M1019.3 370.8L1022.2 378.6L1022.5 389.7L1025.4 393.5M1024.0 371.3L1027.4 380.2L1027.4 392.9M1030.8 367.2L1036.2 368.1L1033.9 380.0L1032.4 385.4L1032.1 392.4M1036.2 368.1L1038.0 359.8L1051.0 362.1L1060.4 363.0L1075.0 361.6L1081.1 358.9L1080.6 355.2L1089.6 344.0L1090.7 329.5L1087.4 314.8L1083.8 316.7L1073.8 312.4M1081.1 358.9L1083.8 364.9L1085.6 369.0L1079.5 375.6L1077.5 381.3L1071.2 391.3L1064.0 390.4L1058.6 399.4M1083.8 364.9L1087.8 367.6L1089.6 375.9L1082.7 377.4L1088.3 387.2L1086.0 393.5L1091.4 407.1L1092.8 411.1L1079.7 411.1L1071.0 411.1L1071.0 416.5L1064.0 416.5M1071.0 411.1L1064.0 410.7M1087.4 314.8L1127.8 331.7L1127.8 349.6L1122.9 350.0L1117.9 363.3L1122.6 371.3L1117.5 373.1L1111.6 380.0L1103.5 384.7L1094.6 386.3L1088.3 387.2M1073.8 312.4L1062.7 298.2L1064.5 284.8L1062.9 278.3L1060.6 268.6L1054.6 262.8L1057.1 254.9L1058.6 242.4M1062.9 278.3L1066.3 274.9L1071.7 266.0L1071.9 263.0M1132.3 271.0L1132.3 319.7L1132.3 329.3L1127.8 329.3L1127.8 331.7M1132.3 319.7L1161.0 319.7L1161.0 318.7L1161.5 319.7L1185.7 319.7M1127.8 349.6L1123.8 357.5L1119.3 362.1L1122.6 371.3L1126.5 376.5L1125.6 381.5L1128.7 383.6L1133.2 387.2L1138.6 391.1L1143.1 398.3M1126.5 376.5L1139.0 378.1L1145.8 378.8L1154.8 374.7L1165.5 367.8L1169.1 365.8L1169.1 372.4L1172.5 378.1L1173.2 382.7L1168.2 385.9L1172.7 389.5L1178.6 396.5L1181.5 400.3L1172.7 402.1L1170.5 404.1L1159.2 404.4L1158.6 405.3M1143.1 398.3L1147.6 401.7L1153.4 400.5L1158.6 405.3M1185.7 319.7L1183.7 352.8L1184.2 356.3L1190.2 353.5L1192.7 355.6L1200.1 355.4L1210.4 364.6L1213.6 363.5M1192.7 339.3L1186.2 343.3L1183.7 352.8M1184.2 356.3L1182.4 363.5L1177.7 367.6L1177.0 371.7L1174.1 373.3L1173.2 382.7M1210.4 364.6L1207.8 371.3L1212.9 371.3L1214.5 369.2M1212.9 371.3L1212.2 374.5L1217.6 380.4L1231.1 384.9L1235.6 384.9L1222.1 398.7L1213.1 399.4L1208.2 403.2L1204.2 403.2L1204.2 424.8L1206.6 428.4M1208.2 403.2L1197.6 405.7L1191.1 404.8L1185.7 401.0L1181.5 400.3M1181.5 400.3L1174.5 404.4L1172.7 402.1M1174.5 404.4L1177.2 413.4L1172.7 419.9L1172.3 425.5L1188.9 434.5L1189.6 437.4L1196.1 441.9M1172.3 425.5L1157.0 425.7L1153.0 427.3L1153.0 423.2L1154.5 417.4L1160.6 411.3L1158.1 410.2L1158.6 405.3M1157.0 425.7L1158.6 431.6L1157.2 431.8L1155.6 431.6L1150.3 433.1L1153.0 427.3M1158.6 431.6L1156.5 435.8L1158.6 435.8L1154.8 441.0L1152.1 441.0M1150.3 433.1L1151.4 435.8M1158.1 458.0L1168.0 463.4L1172.7 463.9M1177.0 473.2L1188.4 473.9L1196.5 471.4L1201.7 468.4M1158.1 458.0L1149.8 459.3L1147.6 463.0L1148.7 465.2L1147.3 472.8L1150.5 477.1L1153.9 476.0L1153.9 482.0L1147.3 477.4L1142.2 473.5L1133.9 471.6L1129.6 472.8L1128.0 470.3L1127.6 479.2L1118.8 479.4L1118.8 494.8L1125.1 501.3L1133.4 502.3M1128.0 470.3L1120.2 471.6L1119.7 465.7L1117.9 453.9L1107.6 452.5L1105.3 457.1L1099.1 457.5L1094.6 447.5L1078.4 447.5L1074.8 446.9M1074.8 443.5L1078.8 441.7L1084.7 442.8L1085.1 440.3L1091.4 438.5L1092.8 430.9L1099.5 423.5L1100.2 416.5L1103.5 405.3L1103.3 401.7L1107.1 398.1L1120.6 402.6L1129.6 398.1L1133.6 398.5L1143.1 398.3M1069.9 438.8L1073.2 437.6L1072.6 433.6L1076.1 431.6L1078.2 431.6L1085.1 430.9L1085.1 423.7L1082.2 421.9L1085.1 414.7L1079.7 411.1M1072.8 499.7L1080.6 500.4L1102.6 500.4L1116.1 503.0L1125.1 501.3M1114.3 504.6L1114.3 522.3L1109.8 522.3L1109.8 535.8L1109.8 554.1L1105.3 556.9L1098.2 555.7L1094.1 555.2M1133.4 502.3L1133.4 502.3L1137.7 508.0L1144.4 515.1L1152.1 523.3L1160.6 524.3L1166.0 519.0L1168.2 511.8L1166.9 507.7L1168.2 500.1L1159.2 493.6L1156.5 492.2L1155.6 488.9L1169.1 484.5L1166.9 482.4L1168.2 478.1L1169.6 469.8L1168.0 463.4M1156.5 492.2L1150.3 493.6L1141.3 503.0L1133.4 502.3M1174.1 486.4L1175.0 487.1L1181.3 488.7L1180.8 493.8L1178.6 499.0L1177.7 497.6L1174.5 494.1L1175.2 490.6L1174.1 486.4M1109.8 535.8L1113.4 546.3L1117.5 546.3L1121.5 542.5L1123.3 538.5L1135.0 540.0L1136.3 535.8L1140.6 533.3L1145.3 527.0L1152.1 523.3M1160.6 524.3L1163.5 534.1L1163.5 541.8L1160.8 540.8L1158.3 546.0L1164.2 546.3L1167.8 546.3M1141.3 560.6L1145.8 556.7L1151.6 557.7L1150.9 561.8L1146.2 565.7L1143.1 563.9L1141.3 560.6" clip-path="url(#lc)" fill="none" stroke="#252525" stroke-width="1.3" stroke-linejoin="round"/><path d="M1231.1 194.2L1234.7 189.7L1238.7 185.8L1242.3 183.9L1249.1 181.2L1254.9 181.9L1258.1 183.9L1258.5 192.3L1253.6 192.3L1250.0 196.7L1245.9 197.3L1248.2 200.5L1250.9 205.4L1255.8 207.9L1256.3 214.0L1260.8 212.2L1265.2 214.6L1263.9 219.4L1258.1 221.1L1257.2 224.7L1260.3 227.6L1258.5 229.3L1261.7 231.6L1262.1 240.2L1258.1 242.4L1253.6 243.6L1249.1 243.0L1245.9 240.2L1241.4 239.1L1239.6 234.5L1240.1 230.5L1241.9 227.6L1242.3 223.5L1245.9 222.3L1242.8 219.4L1240.1 215.8L1237.8 212.8L1234.7 207.9L1233.4 204.2L1233.4 200.5L1230.2 197.3ZM1150.7 217.6L1157.0 217.9L1161.5 217.3L1166.0 213.4L1170.5 212.5L1177.2 212.5L1181.7 215.2L1185.3 217.3L1190.7 218.8L1197.4 218.5L1201.9 218.5L1206.4 215.5L1206.9 210.9L1205.5 206.7L1200.6 204.2L1196.1 200.8L1192.9 198.3L1188.4 196.1L1185.7 193.5L1184.4 191.9L1181.7 193.9L1178.6 194.2L1175.0 196.7L1171.8 198.0L1170.0 196.4L1170.5 193.5L1166.0 191.6L1168.2 188.7L1171.4 186.8L1166.9 187.1L1163.3 185.8L1161.5 183.5L1158.3 184.2L1155.6 188.7L1153.4 192.3L1153.0 195.4L1148.9 198.6L1148.5 203.6L1145.8 205.4L1144.4 209.1L1145.8 212.8L1146.7 215.8ZM1177.2 186.5L1180.8 183.5L1185.3 182.9L1190.7 180.6L1196.1 179.6L1193.4 183.2L1190.7 185.2L1189.8 189.7L1187.5 191.9L1184.8 192.3L1183.0 191.3L1179.5 191.6L1178.1 189.1Z" fill="#262626"/><path d="M520.1 93.5L528.2 88.3L537.1 87.4L530.4 91.8ZM645.4 214.6L649.4 216.4L653.5 215.2L658.4 212.8L664.3 209.1L665.6 207.6L661.6 207.6L657.1 209.1L652.6 210.9L648.1 212.8ZM465.3 31.2L469.8 20.3L476.5 12.4L483.2 12.4L490.0 19.1L483.2 26.9L478.8 34.4L472.0 33.3ZM494.5 73.0L501.2 68.3L505.7 60.7L512.4 62.6L519.2 56.8L529.1 54.8L523.7 61.6L514.7 68.3L508.0 73.0L501.2 74.8ZM639.6 188.4L643.6 187.1L649.4 187.1L654.8 188.4L659.3 191.6L661.1 195.4L658.4 197.3L654.8 194.8L653.0 200.5L653.0 204.2L649.9 206.7L649.0 201.7L645.4 202.3L643.1 201.7L645.8 197.3L645.4 193.5L641.8 190.3ZM626.5 214.6L629.7 214.6L631.9 210.9L632.8 205.4L631.5 199.2L633.3 194.8L636.0 192.9L638.2 189.7L634.6 188.1L631.0 189.1L628.3 192.3L625.2 196.1L627.0 198.6L626.1 203.6L625.2 207.9ZM633.7 366.2L638.2 369.0L639.1 370.8L634.6 369.5ZM619.8 158.8L624.7 159.5L624.3 165.1L620.7 164.4ZM661.6 204.8L665.2 205.1L669.6 204.5L674.1 204.8L677.3 203.0L677.3 199.8L673.2 200.8L668.8 200.8L664.3 202.0ZM558.3 98.7L563.6 99.5L562.7 111.2L559.2 109.5ZM606.8 183.2L611.3 181.2L615.8 177.3L618.9 174.6L623.4 169.9L629.2 169.5L633.7 170.5L638.2 175.3L640.0 181.2L639.6 184.5L636.0 183.2L631.5 184.5L627.0 184.5L623.8 181.2L625.6 178.3L621.1 180.6L616.6 182.6L612.2 183.5ZM705.6 490.6L710.1 492.9L711.0 496.2L706.5 494.3ZM575.8 133.2L580.3 132.5L583.0 139.2L586.1 146.6L587.0 156.0L584.8 158.1L584.3 151.7L580.7 145.2L577.1 140.0ZM568.1 137.7L571.7 137.7L573.5 146.6L574.9 153.8L571.7 151.7L569.5 145.2ZM1156.5 416.1L1159.7 411.1L1161.0 410.7L1158.8 415.6ZM1485.8 150.2L1490.7 150.2L1496.1 144.4L1502.9 140.7L1509.6 134.0L1513.6 124.0L1513.2 117.6L1509.6 120.0L1508.7 127.8L1502.9 134.7L1496.1 140.0L1490.7 145.2L1486.7 147.3ZM1081.1 359.8L1085.1 359.3L1085.6 363.0L1082.0 363.5ZM1362.3 209.7L1368.1 208.2L1372.1 209.1L1368.1 211.5L1362.7 210.9ZM1470.1 149.5L1472.3 149.5L1471.9 157.4L1470.5 157.4ZM1155.2 78.5L1157.0 70.2L1161.5 65.9L1167.8 71.1L1167.8 77.6L1165.1 81.2L1160.6 83.0L1158.8 80.3ZM1172.3 463.9L1175.0 464.3L1176.8 473.0L1176.3 477.6L1178.6 485.4L1175.9 485.9L1174.1 479.0L1173.2 471.6ZM1174.1 73.0L1175.9 60.7L1178.6 56.8L1183.0 65.4L1183.9 73.0L1179.5 74.8ZM1141.3 91.8L1144.4 90.9L1145.3 97.8L1143.1 99.5ZM1467.8 241.3L1470.5 240.8L1472.3 243.0L1469.2 244.1ZM1151.2 436.3L1153.4 436.7L1153.9 443.5L1157.4 451.6L1160.1 459.8L1157.4 460.2L1154.8 453.4L1151.6 446.2L1150.7 440.8ZM1485.8 360.7L1488.5 362.1L1489.8 364.4L1488.0 363.9ZM1180.8 400.8L1182.6 401.2L1184.8 409.3L1183.0 409.8ZM1222.1 235.1L1224.8 235.7L1226.2 240.2L1223.5 240.8ZM1210.0 232.8L1214.5 230.5L1215.8 233.9L1211.8 234.5ZM1075.7 94.4L1079.3 88.3L1082.9 89.2L1081.1 95.3L1077.9 96.5ZM1083.3 101.2L1085.1 94.0L1086.9 94.4L1084.7 101.6ZM1162.4 423.7L1165.1 420.3L1169.1 419.4L1172.7 419.9L1173.6 422.8L1172.7 426.4L1170.9 430.9L1168.2 432.7L1165.1 432.7L1162.4 430.0L1162.8 426.4Z" fill="#222222"/></g>
<filter id="glow" x="-40%" y="-40%" width="180%" height="180%"><feGaussianBlur stdDeviation="3.4" result="b"/><feComponentTransfer in="b" result="g"><feFuncA type="linear" slope="0.62"/></feComponentTransfer><feMerge><feMergeNode in="g"/><feMergeNode in="SourceGraphic"/></feMerge></filter>
<filter id="glow2" x="-100%" y="-100%" width="300%" height="300%"><feGaussianBlur stdDeviation="4"/></filter>
</defs>
<use href="#world"/><use href="#world" x="-1617"/><use href="#world" x="1617"/>
<g fill="#101010" stroke="#101010" stroke-width="3.4" stroke-linejoin="round" style="white-space:pre"><text transform="translate(547.6 174.1) scale(1.043 1)" x="-0.63" y="0" font-size="21.08" letter-spacing="1.48">NORTH</text><text transform="translate(534.4 201.1) scale(1.058 1)" x="-0.63" y="0" font-size="21.08" letter-spacing="1.48">AMERICA</text><text transform="translate(2164.6 174.1) scale(1.043 1)" x="-0.63" y="0" font-size="21.08" letter-spacing="1.48">NORTH</text><text transform="translate(2151.4 201.1) scale(1.058 1)" x="-0.63" y="0" font-size="21.08" letter-spacing="1.48">AMERICA</text><text transform="translate(1019.0 204.5) scale(0.998 1)" x="-0.63" y="0" font-size="21.08" letter-spacing="1.48">EUROPE</text><text transform="translate(1050.0 367.5) scale(1.044 1)" x="-0.65" y="0" font-size="21.51" letter-spacing="1.51">AFRIKA /</text><text transform="translate(607.9 391.3) scale(1.060 1)" x="-0.62" y="0" font-size="20.78" letter-spacing="1.45">AMERICA</text><text transform="translate(692.0 502.4) scale(1.180 1)" x="-0.56" y="0" font-size="18.60" letter-spacing="1.30">AMÉRICA</text><text transform="translate(646.4 529.2) scale(1.092 1)" x="-0.58" y="0" font-size="19.19" letter-spacing="1.34">DO SUL;AMÉRICA</text><text transform="translate(698.7 555.3) scale(1.014 1)" x="-0.58" y="0" font-size="19.33" letter-spacing="1.35">DEL SUR</text><text transform="translate(130.8 529.2) scale(1.058 1)" x="-0.64" y="0" font-size="21.22" letter-spacing="1.49">OCEANIA</text><text transform="translate(1747.8 529.2) scale(1.058 1)" x="-0.64" y="0" font-size="21.22" letter-spacing="1.49">OCEANIA</text><text transform="translate(1568.9 548.6) scale(1.028 1)" x="-0.64" y="0" font-size="21.22" letter-spacing="1.49">AUSTRALIA</text><text transform="translate(-48.1 548.6) scale(1.028 1)" x="-0.64" y="0" font-size="21.22" letter-spacing="1.49">AUSTRALIA</text></g>
<g fill="#3b3b3b" stroke="#3b3b3b" stroke-width="1.15" style="white-space:pre"><text transform="translate(547.6 174.1) scale(1.043 1)" x="-0.63" y="0" font-size="21.08" letter-spacing="1.48">NORTH</text><text transform="translate(534.4 201.1) scale(1.058 1)" x="-0.63" y="0" font-size="21.08" letter-spacing="1.48">AMERICA</text><text transform="translate(2164.6 174.1) scale(1.043 1)" x="-0.63" y="0" font-size="21.08" letter-spacing="1.48">NORTH</text><text transform="translate(2151.4 201.1) scale(1.058 1)" x="-0.63" y="0" font-size="21.08" letter-spacing="1.48">AMERICA</text><text transform="translate(1019.0 204.5) scale(0.998 1)" x="-0.63" y="0" font-size="21.08" letter-spacing="1.48">EUROPE</text><text transform="translate(1050.0 367.5) scale(1.044 1)" x="-0.65" y="0" font-size="21.51" letter-spacing="1.51">AFRIKA /</text><text transform="translate(607.9 391.3) scale(1.060 1)" x="-0.62" y="0" font-size="20.78" letter-spacing="1.45">AMERICA</text><text transform="translate(692.0 502.4) scale(1.180 1)" x="-0.56" y="0" font-size="18.60" letter-spacing="1.30">AMÉRICA</text><text transform="translate(646.4 529.2) scale(1.092 1)" x="-0.58" y="0" font-size="19.19" letter-spacing="1.34">DO SUL;AMÉRICA</text><text transform="translate(698.7 555.3) scale(1.014 1)" x="-0.58" y="0" font-size="19.33" letter-spacing="1.35">DEL SUR</text><text transform="translate(130.8 529.2) scale(1.058 1)" x="-0.64" y="0" font-size="21.22" letter-spacing="1.49">OCEANIA</text><text transform="translate(1747.8 529.2) scale(1.058 1)" x="-0.64" y="0" font-size="21.22" letter-spacing="1.49">OCEANIA</text><text transform="translate(1568.9 548.6) scale(1.028 1)" x="-0.64" y="0" font-size="21.22" letter-spacing="1.49">AUSTRALIA</text><text transform="translate(-48.1 548.6) scale(1.028 1)" x="-0.64" y="0" font-size="21.22" letter-spacing="1.49">AUSTRALIA</text></g>
<path transform="translate(1061.0 372.0)" d="M2.2 5.5V20.5H41Q41.6 18.6 40.4 17.4M11.8 20.5V17.2M28.3 20.5V15.2M28.1 15.2A2.7 2.7 0 1 1 22.7 15.2A2.7 2.7 0 1 1 28.1 15.2M69.5 20.5H58.6Q59 25 52 26Q47 26.8 43.2 25.8M68.4 20.5V15.2M68.2 15.2A2.7 2.7 0 1 1 62.8 15.2A2.7 2.7 0 1 1 68.2 15.2M77.2 4.8V21M78.8 0.9Q76 0.5 76.2 2.2Q76.5 3.1 79 2.6" fill="none" stroke="#101010" stroke-width="5.2" stroke-linecap="round" stroke-linejoin="round"/>
<path transform="translate(1061.0 372.0)" d="M10.2 25.3h.01M13.4 25.3h.01M36.4 25.3h.01M39.6 25.3h.01M23.6 7.8h.01M26.9 7.8h.01M65.5 8.6h.01" fill="none" stroke="#101010" stroke-width="4.6" stroke-linecap="round"/>
<path transform="translate(1061.0 372.0)" d="M2.2 5.5V20.5H41Q41.6 18.6 40.4 17.4M11.8 20.5V17.2M28.3 20.5V15.2M28.1 15.2A2.7 2.7 0 1 1 22.7 15.2A2.7 2.7 0 1 1 28.1 15.2M69.5 20.5H58.6Q59 25 52 26Q47 26.8 43.2 25.8M68.4 20.5V15.2M68.2 15.2A2.7 2.7 0 1 1 62.8 15.2A2.7 2.7 0 1 1 68.2 15.2M77.2 4.8V21M78.8 0.9Q76 0.5 76.2 2.2Q76.5 3.1 79 2.6" fill="none" stroke="#3a3a3a" stroke-width="2.5" stroke-linecap="round" stroke-linejoin="round"/>
<path transform="translate(1061.0 372.0)" d="M10.2 25.3h.01M13.4 25.3h.01M36.4 25.3h.01M39.6 25.3h.01M23.6 7.8h.01M26.9 7.8h.01M65.5 8.6h.01" fill="none" stroke="#3a3a3a" stroke-width="2.1" stroke-linecap="round"/>
<path transform="translate(1399.0 146.0)" d="M2 1.9H20M1.5 17.7H20.3M8.2 1.9V17.7M12.2 1.9V17.7M2.3 6.6L6.1 14.6M18.6 6.3L15.1 14.6M25.9 1.4L28.6 3.8M24.8 6.3L27.6 8.7M24.8 19L28.6 11.5M33.1 0.7V10.8Q33 16 29 19.4M37.5 1.4V18.4M42.1 0.4V19.8M34.8 7l1.2 2.5M39 7l1.2 2.5" fill="none" stroke="#101010" stroke-width="3.6" stroke-linecap="round"/>
<path transform="translate(1399.0 146.0)" d="M2 1.9H20M1.5 17.7H20.3M8.2 1.9V17.7M12.2 1.9V17.7M2.3 6.6L6.1 14.6M18.6 6.3L15.1 14.6M25.9 1.4L28.6 3.8M24.8 6.3L27.6 8.7M24.8 19L28.6 11.5M33.1 0.7V10.8Q33 16 29 19.4M37.5 1.4V18.4M42.1 0.4V19.8M34.8 7l1.2 2.5M39 7l1.2 2.5" fill="none" stroke="#363636" stroke-width="1.55" stroke-linecap="square"/>
<g font-family="Liberation Mono, monospace" font-weight="700" fill="#e6edf3" stroke="#e6edf3" stroke-width="0.3" text-anchor="middle" class="cl">
<g><circle cx="684.20" cy="208.30" r="29.53" fill="#0d1117"/><g filter="url(#glow)" fill="none" stroke-width="6.3" stroke-linecap="round"><path d="M687.34 178.94A29.53 29.53 0 1 1 675.62 236.56" stroke="#5db95e"/><path d="M671.20 234.82A29.53 29.53 0 0 1 664.40 186.39" stroke="#e68f4d"/><path d="M668.16 183.50A29.53 29.53 0 0 1 681.83 178.86" stroke="#e85b50"/></g><text transform="translate(684.20 216.10) scale(0.88 1)" font-size="23.4">45</text></g>
<g><circle cx="471.20" cy="179.30" r="31.45" fill="#0d1117"/><g filter="url(#glow)" fill="none" stroke-width="6.3" stroke-linecap="round"><path d="M475.43 148.14A31.45 31.45 0 1 1 443.89 194.90" stroke="#5db95e"/><path d="M441.89 190.70A31.45 31.45 0 0 1 466.15 148.26" stroke="#e68f4d"/></g><text transform="translate(471.20 187.85) scale(0.85 1)" font-size="25.6">169</text></g>
<g><circle cx="490.30" cy="257.20" r="31.45" fill="#0d1117"/><g filter="url(#glow)" fill="none" stroke-width="6.3" stroke-linecap="round"><path d="M494.53 226.04A31.45 31.45 0 1 1 473.05 283.50" stroke="#5db95e"/><path d="M469.36 280.67A31.45 31.45 0 0 1 478.65 227.99" stroke="#e68f4d"/><path d="M483.09 226.59A31.45 31.45 0 0 1 489.07 225.77" stroke="#e85b50"/></g><text transform="translate(490.30 265.75) scale(0.85 1)" font-size="25.6">95</text></g>
<g><circle cx="586.30" cy="266.60" r="31.45" fill="#0d1117"/><g filter="url(#glow)" fill="none" stroke-width="6.3" stroke-linecap="round"><path d="M590.53 235.44A31.45 31.45 0 1 1 578.55 297.08" stroke="#5db95e"/><path d="M574.14 295.61A31.45 31.45 0 0 1 581.25 235.56" stroke="#e68f4d"/></g><text transform="translate(586.30 275.15) scale(0.85 1)" font-size="25.6">91</text></g>
<g><circle cx="670.40" cy="241.30" r="31.45" fill="#0d1117"/><g filter="url(#glow)" fill="none" stroke-width="6.3" stroke-linecap="round"><path d="M674.63 210.14A31.45 31.45 0 1 1 650.92 265.99" stroke="#5db95e"/><path d="M647.50 262.85A31.45 31.45 0 0 1 665.35 210.26" stroke="#e68f4d"/></g><text transform="translate(670.40 249.85) scale(0.85 1)" font-size="25.6">1560</text></g>
<g><circle cx="556.90" cy="325.10" r="20.78" fill="#0d1117"/><g filter="url(#glow)" fill="none" stroke-width="6.3" stroke-linecap="round"><path d="M561.11 304.75A20.78 20.78 0 0 1 559.68 345.70" stroke="#5db95e"/><path d="M554.48 345.74A20.78 20.78 0 0 1 537.54 317.54" stroke="#e68f4d"/><path d="M540.02 312.98A20.78 20.78 0 0 1 555.38 304.37" stroke="#e85b50"/></g><text transform="translate(556.90 331.10) scale(0.93 1)" font-size="17.9">6</text></g>
<g><circle cx="666.50" cy="345.10" r="26.22" fill="#0d1117"/><g filter="url(#glow)" fill="none" stroke-width="6.3" stroke-linecap="round"><path d="M669.64 319.07A26.22 26.22 0 1 1 644.99 360.10" stroke="#e68f4d"/><path d="M642.57 355.82A26.22 26.22 0 0 1 664.04 318.99" stroke="#5db95e"/></g><text transform="translate(666.50 351.60) scale(0.93 1)" font-size="19.4">21</text></g>
<g><circle cx="747.60" cy="381.50" r="21.45" fill="#0d1117"/><g filter="url(#glow)" fill="none" stroke-width="6.3" stroke-linecap="round"><path d="M750.74 360.28A21.45 21.45 0 1 1 741.48 402.06" stroke="#e68f4d"/><path d="M736.74 400.00A21.45 21.45 0 0 1 745.02 360.20" stroke="#5db95e"/></g><text transform="translate(747.60 387.50) scale(0.93 1)" font-size="17.9">7</text></g>
<g><circle cx="663.90" cy="410.20" r="30.32" fill="#0d1117"/><g filter="url(#glow)" fill="none" stroke-width="6.3" stroke-linecap="round"><path d="M668.10 380.17A30.32 30.32 0 1 1 659.65 440.23" stroke="#5db95e"/><path d="M655.06 439.21A30.32 30.32 0 0 1 658.92 380.29" stroke="#e68f4d"/></g><text transform="translate(663.90 418.75) scale(0.85 1)" font-size="25.6">54</text></g>
<g><circle cx="751.00" cy="437.00" r="17.77" fill="#0d1117"/><g filter="url(#glow)" fill="none" stroke-width="6.3" stroke-linecap="round"><path d="M751.00 419.23A17.77 17.77 0 1 1 751.00 454.77A17.77 17.77 0 1 1 751.00 419.23" stroke="#e68f4d"/></g><text transform="translate(751.00 443.00) scale(0.93 1)" font-size="17.9">3</text></g>
<g><circle cx="840.50" cy="451.30" r="28.05" fill="#0d1117"/><g filter="url(#glow)" fill="none" stroke-width="6.3" stroke-linecap="round"><path d="M843.64 423.42A28.05 28.05 0 1 1 815.60 464.22" stroke="#e68f4d"/><path d="M813.76 459.77A28.05 28.05 0 0 1 838.09 423.35" stroke="#5db95e"/></g><text transform="translate(840.50 459.10) scale(0.88 1)" font-size="23.4">32</text></g>
<g><circle cx="812.60" cy="530.10" r="31.45" fill="#0d1117"/><g filter="url(#glow)" fill="none" stroke-width="6.3" stroke-linecap="round"><path d="M816.83 498.94A31.45 31.45 0 1 1 808.08 561.22" stroke="#e68f4d"/><path d="M803.54 560.22A31.45 31.45 0 0 1 807.55 499.06" stroke="#5db95e"/></g><text transform="translate(812.60 538.65) scale(0.85 1)" font-size="25.6">350</text></g>
<g><circle cx="703.30" cy="591.80" r="23.42" fill="#0d1117"/><g filter="url(#glow)" fill="none" stroke-width="6.3" stroke-linecap="round"><path d="M706.44 568.60A23.42 23.42 0 0 1 711.96 613.55" stroke="#e68f4d"/><path d="M707.08 614.91A23.42 23.42 0 0 1 688.98 573.28" stroke="#5db95e"/><path d="M693.30 570.63A23.42 23.42 0 0 1 700.77 568.52" stroke="#e85b50"/></g><text transform="translate(703.30 598.30) scale(0.93 1)" font-size="19.4">11</text></g>
<g><circle cx="759.30" cy="588.80" r="29.99" fill="#0d1117"/><g filter="url(#glow)" fill="none" stroke-width="6.3" stroke-linecap="round"><path d="M762.44 558.98A29.99 29.99 0 1 1 734.15 605.14" stroke="#e68f4d"/><path d="M731.90 600.99A29.99 29.99 0 0 1 756.94 558.90" stroke="#5db95e"/></g><text transform="translate(759.30 597.35) scale(0.85 1)" font-size="25.6">50</text></g>
<g><circle cx="1109.20" cy="89.40" r="29.99" fill="#0d1117"/><g filter="url(#glow)" fill="none" stroke-width="6.3" stroke-linecap="round"><path d="M1112.34 59.58A29.99 29.99 0 1 1 1097.97 117.21" stroke="#e68f4d"/><path d="M1093.75 115.10A29.99 29.99 0 0 1 1084.63 72.21" stroke="#5db95e"/><path d="M1087.63 68.56A29.99 29.99 0 0 1 1106.84 59.50" stroke="#e85b50"/></g><text transform="translate(1109.20 97.95) scale(0.85 1)" font-size="25.6">50</text></g>
<g><circle cx="1174.20" cy="141.90" r="28.44" fill="#0d1117"/><g filter="url(#glow)" fill="none" stroke-width="6.3" stroke-linecap="round"><path d="M1177.34 113.63A28.44 28.44 0 0 1 1173.38 170.33" stroke="#e68f4d"/><path d="M1168.60 169.79A28.44 28.44 0 0 1 1145.79 140.58" stroke="#5db95e"/><path d="M1146.42 135.82A28.44 28.44 0 0 1 1171.80 113.56" stroke="#e85b50"/></g><text transform="translate(1174.20 149.70) scale(0.88 1)" font-size="23.4">35</text></g>
<g><circle cx="1066.60" cy="160.70" r="31.45" fill="#0d1117"/><g filter="url(#glow)" fill="none" stroke-width="6.3" stroke-linecap="round"><path d="M1069.74 129.41A31.45 31.45 0 1 1 1043.50 182.04" stroke="#5db95e"/><path d="M1040.61 178.41A31.45 31.45 0 0 1 1058.07 130.43" stroke="#e68f4d"/><path d="M1062.62 129.50A31.45 31.45 0 0 1 1064.28 129.34" stroke="#e85b50"/></g><text transform="translate(1066.60 169.25) scale(0.85 1)" font-size="25.6">276</text></g>
<g><circle cx="1032.30" cy="176.80" r="31.45" fill="#0d1117"/><g filter="url(#glow)" fill="none" stroke-width="6.3" stroke-linecap="round"><path d="M1035.44 145.51A31.45 31.45 0 1 1 1014.14 202.48" stroke="#5db95e"/><path d="M1010.56 199.52A31.45 31.45 0 0 1 1023.77 146.53" stroke="#e68f4d"/><path d="M1028.32 145.60A31.45 31.45 0 0 1 1029.98 145.44" stroke="#e85b50"/></g><text transform="translate(1032.30 185.35) scale(0.85 1)" font-size="25.6">497</text></g>
<g><circle cx="1069.60" cy="195.80" r="31.45" fill="#0d1117"/><g filter="url(#glow)" fill="none" stroke-width="6.3" stroke-linecap="round"><path d="M1072.74 164.51A31.45 31.45 0 1 1 1047.46 173.46" stroke="#5db95e"/><path d="M1051.00 170.44A31.45 31.45 0 0 1 1063.20 165.01" stroke="#e68f4d"/><path d="M1067.41 164.43A31.45 31.45 0 0 1 1067.68 164.41" stroke="#e85b50"/></g><text transform="translate(1069.60 204.35) scale(0.85 1)" font-size="25.6">699</text></g>
<g><circle cx="1001.80" cy="241.20" r="31.26" fill="#0d1117"/><g filter="url(#glow)" fill="none" stroke-width="6.3" stroke-linecap="round"><path d="M1006.03 210.23A31.26 31.26 0 1 1 996.79 272.06" stroke="#e68f4d"/><path d="M992.26 270.97A31.26 31.26 0 0 1 996.76 210.35" stroke="#5db95e"/></g><text transform="translate(1001.80 249.75) scale(0.85 1)" font-size="25.6">67</text></g>
<g><circle cx="1205.90" cy="256.90" r="31.45" fill="#0d1117"/><g filter="url(#glow)" fill="none" stroke-width="6.3" stroke-linecap="round"><path d="M1209.04 225.61A31.45 31.45 0 1 1 1196.57 286.93" stroke="#5db95e"/><path d="M1192.24 285.23A31.45 31.45 0 0 1 1203.58 225.54" stroke="#e68f4d"/></g><text transform="translate(1205.90 265.45) scale(0.85 1)" font-size="25.6">136</text></g>
<g><circle cx="1267.90" cy="306.70" r="30.71" fill="#0d1117"/><g filter="url(#glow)" fill="none" stroke-width="6.3" stroke-linecap="round"><path d="M1272.11 276.28A30.71 30.71 0 0 1 1267.83 337.41" stroke="#5db95e"/><path d="M1263.16 337.04A30.71 30.71 0 0 1 1262.90 276.40" stroke="#e68f4d"/></g><text transform="translate(1267.90 315.25) scale(0.85 1)" font-size="25.6">59</text></g>
<g><circle cx="1196.20" cy="323.60" r="16.01" fill="#0d1117"/><g filter="url(#glow)" fill="none" stroke-width="6.3" stroke-linecap="round"><path d="M1199.33 307.90A16.01 16.01 0 0 1 1198.50 339.45" stroke="#e85b50"/><path d="M1193.07 339.30A16.01 16.01 0 0 1 1193.48 307.82" stroke="#e68f4d"/></g><text transform="translate(1196.20 329.60) scale(0.93 1)" font-size="17.9">2</text></g>
<g><circle cx="1204.60" cy="376.30" r="24.14" fill="#0d1117"/><g filter="url(#glow)" fill="none" stroke-width="6.3" stroke-linecap="round"><path d="M1207.74 352.36A24.14 24.14 0 0 1 1201.86 400.28" stroke="#5db95e"/><path d="M1196.95 399.20A24.14 24.14 0 0 1 1191.28 356.16" stroke="#e68f4d"/><path d="M1195.74 353.84A24.14 24.14 0 0 1 1202.09 352.29" stroke="#e85b50"/></g><text transform="translate(1204.60 382.80) scale(0.93 1)" font-size="19.4">13</text></g>
<g><circle cx="1188.70" cy="433.00" r="28.68" fill="#0d1117"/><g filter="url(#glow)" fill="none" stroke-width="6.3" stroke-linecap="round"><path d="M1191.84 404.49A28.68 28.68 0 1 1 1170.38 455.07" stroke="#5db95e"/><path d="M1166.96 451.71A28.68 28.68 0 0 1 1182.11 405.09" stroke="#e68f4d"/><path d="M1186.45 404.41A28.68 28.68 0 0 1 1186.70 404.39" stroke="#e85b50"/></g><text transform="translate(1188.70 440.80) scale(0.88 1)" font-size="23.4">37</text></g>
<g><circle cx="942.30" cy="356.80" r="19.99" fill="#0d1117"/><g filter="url(#glow)" fill="none" stroke-width="6.3" stroke-linecap="round"><path d="M945.44 337.06A19.99 19.99 0 1 1 932.01 373.94" stroke="#e68f4d"/><path d="M927.91 370.68A19.99 19.99 0 0 1 939.68 336.98" stroke="#5db95e"/></g><text transform="translate(942.30 362.80) scale(0.93 1)" font-size="17.9">5</text></g>
<g><circle cx="1000.50" cy="396.20" r="19.02" fill="#0d1117"/><g filter="url(#glow)" fill="none" stroke-width="6.3" stroke-linecap="round"><path d="M1003.64 377.44A19.02 19.02 0 0 1 1002.65 415.10" stroke="#5db95e"/><path d="M997.36 414.96A19.02 19.02 0 0 1 997.86 377.36" stroke="#e68f4d"/></g><text transform="translate(1000.50 402.20) scale(0.93 1)" font-size="17.9">4</text></g>
<g><circle cx="1080.60" cy="462.60" r="23.42" fill="#0d1117"/><g filter="url(#glow)" fill="none" stroke-width="6.3" stroke-linecap="round"><path d="M1083.74 439.40A23.42 23.42 0 1 1 1063.12 478.18" stroke="#5db95e"/><path d="M1060.18 474.06A23.42 23.42 0 0 1 1078.07 439.32" stroke="#e68f4d"/></g><text transform="translate(1080.60 469.10) scale(0.93 1)" font-size="19.4">11</text></g>
<g><circle cx="1147.40" cy="546.00" r="30.48" fill="#0d1117"/><g filter="url(#glow)" fill="none" stroke-width="6.3" stroke-linecap="round"><path d="M1151.60 515.81A30.48 30.48 0 1 1 1138.45 575.14" stroke="#e68f4d"/><path d="M1134.08 573.42A30.48 30.48 0 0 1 1142.41 515.93" stroke="#5db95e"/></g><text transform="translate(1147.40 554.55) scale(0.85 1)" font-size="25.6">56</text></g>
<g><circle cx="1102.80" cy="585.70" r="17.77" fill="#0d1117"/><g filter="url(#glow)" fill="none" stroke-width="6.3" stroke-linecap="round"><path d="M1105.93 568.20A17.77 17.77 0 1 1 1088.82 596.68" stroke="#e68f4d"/><path d="M1086.19 592.02A17.77 17.77 0 0 1 1100.13 568.13" stroke="#5db95e"/></g><text transform="translate(1102.80 591.70) scale(0.93 1)" font-size="17.9">3</text></g>
<g><circle cx="1280.10" cy="516.30" r="19.02" fill="#0d1117"/><g filter="url(#glow)" fill="none" stroke-width="6.3" stroke-linecap="round"><path d="M1283.24 497.54A19.02 19.02 0 1 1 1261.20 518.45" stroke="#e68f4d"/><path d="M1261.34 513.16A19.02 19.02 0 0 1 1277.46 497.46" stroke="#5db95e"/></g><text transform="translate(1280.10 522.30) scale(0.93 1)" font-size="17.9">4</text></g>
<g><circle cx="1349.40" cy="212.70" r="22.54" fill="#0d1117"/><g filter="url(#glow)" fill="none" stroke-width="6.3" stroke-linecap="round"><path d="M1352.54 190.38A22.54 22.54 0 1 1 1344.33 234.67" stroke="#e68f4d"/><path d="M1339.52 232.96A22.54 22.54 0 0 1 1346.85 190.30" stroke="#5db95e"/></g><text transform="translate(1349.40 218.70) scale(0.93 1)" font-size="17.9">9</text></g>
<g><circle cx="1359.00" cy="276.00" r="27.47" fill="#0d1117"/><g filter="url(#glow)" fill="none" stroke-width="6.3" stroke-linecap="round"><path d="M1362.14 248.71A27.47 27.47 0 0 1 1377.23 296.55" stroke="#e68f4d"/><path d="M1373.33 299.44A27.47 27.47 0 0 1 1331.77 279.62" stroke="#5db95e"/><path d="M1331.56 274.77A27.47 27.47 0 0 1 1356.57 248.64" stroke="#e85b50"/></g><text transform="translate(1359.00 282.50) scale(0.93 1)" font-size="19.4">28</text></g>
<g><circle cx="1357.00" cy="342.40" r="29.99" fill="#0d1117"/><g filter="url(#glow)" fill="none" stroke-width="6.3" stroke-linecap="round"><path d="M1360.14 312.58A29.99 29.99 0 0 1 1366.28 370.92" stroke="#e68f4d"/><path d="M1361.68 372.02A29.99 29.99 0 0 1 1335.06 321.95" stroke="#5db95e"/><path d="M1338.54 318.76A29.99 29.99 0 0 1 1354.64 312.50" stroke="#e85b50"/></g><text transform="translate(1357.00 350.95) scale(0.85 1)" font-size="25.6">50</text></g>
<g><circle cx="1420.30" cy="307.60" r="31.45" fill="#0d1117"/><g filter="url(#glow)" fill="none" stroke-width="6.3" stroke-linecap="round"><path d="M1423.44 276.31A31.45 31.45 0 0 1 1417.96 338.96" stroke="#e68f4d"/><path d="M1413.37 338.28A31.45 31.45 0 0 1 1409.68 278.00" stroke="#5db95e"/><path d="M1414.16 276.76A31.45 31.45 0 0 1 1417.98 276.24" stroke="#e85b50"/></g><text transform="translate(1420.30 316.15) scale(0.85 1)" font-size="25.6">86</text></g>
<g><circle cx="1379.40" cy="391.40" r="16.01" fill="#0d1117"/><g filter="url(#glow)" fill="none" stroke-width="6.3" stroke-linecap="round"><path d="M1379.40 375.39A16.01 16.01 0 1 1 1379.40 407.41A16.01 16.01 0 1 1 1379.40 375.39" stroke="#5db95e"/></g><text transform="translate(1379.40 397.40) scale(0.93 1)" font-size="17.9">2</text></g>
<g><circle cx="1500.60" cy="176.50" r="21.45" fill="#0d1117"/><g filter="url(#glow)" fill="none" stroke-width="6.3" stroke-linecap="round"><path d="M1503.74 155.28A21.45 21.45 0 1 1 1482.13 165.58" stroke="#e68f4d"/><path d="M1485.28 161.49A21.45 21.45 0 0 1 1498.02 155.20" stroke="#5db95e"/></g><text transform="translate(1500.60 182.50) scale(0.93 1)" font-size="17.9">7</text></g>
<g><circle cx="1644.10" cy="252.30" r="29.02" fill="#0d1117"/><g filter="url(#glow)" fill="none" stroke-width="6.3" stroke-linecap="round"><path d="M1647.24 223.45A29.02 29.02 0 1 1 1615.18 249.88" stroke="#e68f4d"/><path d="M1615.97 245.17A29.02 29.02 0 0 1 1624.60 230.81" stroke="#5db95e"/><path d="M1628.39 227.90A29.02 29.02 0 0 1 1641.71 223.38" stroke="#e85b50"/></g><text transform="translate(1644.10 260.10) scale(0.88 1)" font-size="23.4">40</text></g>
<g><circle cx="1590.10" cy="240.20" r="19.99" fill="#0d1117"/><g filter="url(#glow)" fill="none" stroke-width="6.3" stroke-linecap="round"><path d="M1593.24 220.46A19.99 19.99 0 0 1 1604.49 254.08" stroke="#5db95e"/><path d="M1600.39 257.34A19.99 19.99 0 0 1 1570.47 236.39" stroke="#e85b50"/><path d="M1572.14 231.43A19.99 19.99 0 0 1 1587.48 220.38" stroke="#e68f4d"/></g><text transform="translate(1590.10 246.20) scale(0.93 1)" font-size="17.9">5</text></g>
<g><circle cx="1533.80" cy="320.40" r="31.45" fill="#0d1117"/><g filter="url(#glow)" fill="none" stroke-width="6.3" stroke-linecap="round"><path d="M1538.03 289.24A31.45 31.45 0 1 1 1506.22 335.52" stroke="#e68f4d"/><path d="M1504.30 331.29A31.45 31.45 0 0 1 1528.75 289.36" stroke="#5db95e"/></g><text transform="translate(1533.80 328.95) scale(0.85 1)" font-size="25.6">629</text></g>
<g><circle cx="1488.20" cy="414.60" r="31.45" fill="#0d1117"/><g filter="url(#glow)" fill="none" stroke-width="6.3" stroke-linecap="round"><path d="M1491.34 383.31A31.45 31.45 0 1 1 1484.77 445.86" stroke="#5db95e"/><path d="M1480.20 445.02A31.45 31.45 0 0 1 1480.20 384.18" stroke="#e68f4d"/><path d="M1484.77 383.34A31.45 31.45 0 0 1 1485.88 383.24" stroke="#e85b50"/></g><text transform="translate(1488.20 423.15) scale(0.85 1)" font-size="25.6">294</text></g>
<g><circle cx="1538.60" cy="462.40" r="16.01" fill="#0d1117"/><g filter="url(#glow)" fill="none" stroke-width="6.3" stroke-linecap="round"><path d="M1541.73 446.70A16.01 16.01 0 0 1 1540.90 478.25" stroke="#5db95e"/><path d="M1535.47 478.10A16.01 16.01 0 0 1 1535.88 446.62" stroke="#e68f4d"/></g><text transform="translate(1538.60 468.40) scale(0.93 1)" font-size="17.9">2</text></g>
<g><circle cx="1700.00" cy="583.70" r="19.99" fill="#0d1117"/><g filter="url(#glow)" fill="none" stroke-width="6.3" stroke-linecap="round"><path d="M1703.14 563.96A19.99 19.99 0 0 1 1714.39 597.58" stroke="#5db95e"/><path d="M1710.29 600.84A19.99 19.99 0 0 1 1680.06 582.32" stroke="#e85b50"/><path d="M1681.10 577.18A19.99 19.99 0 0 1 1697.38 563.88" stroke="#e68f4d"/></g><text transform="translate(1700.00 589.70) scale(0.93 1)" font-size="17.9">5</text></g>
<g><circle cx="514.10" cy="140.40" r="12.5" fill="#e68f4d" filter="url(#glow2)"/><circle cx="514.10" cy="140.40" r="9.4" fill="#e68f4d" stroke="#fff" stroke-width="3.1"/><circle cx="514.10" cy="140.40" r="1.9" fill="#fff"/></g>
<g><circle cx="718.00" cy="502.00" r="12.5" fill="#5db95e" filter="url(#glow2)"/><circle cx="718.00" cy="502.00" r="9.4" fill="#5db95e" stroke="#fff" stroke-width="3.1"/><circle cx="718.00" cy="502.00" r="1.9" fill="#fff"/></g>
<g><circle cx="1535.80" cy="259.00" r="12.5" fill="#5db95e" filter="url(#glow2)"/><circle cx="1535.80" cy="259.00" r="9.4" fill="#5db95e" stroke="#fff" stroke-width="3.1"/><circle cx="1535.80" cy="259.00" r="1.9" fill="#fff"/></g>
<g><circle cx="1587.90" cy="394.90" r="12.5" fill="#e85b50" filter="url(#glow2)"/><circle cx="1587.90" cy="394.90" r="9.4" fill="#e85b50" stroke="#fff" stroke-width="3.1"/><circle cx="1587.90" cy="394.90" r="1.9" fill="#fff"/></g>
<g><circle cx="1645.70" cy="593.70" r="12.5" fill="#e68f4d" filter="url(#glow2)"/><circle cx="1645.70" cy="593.70" r="9.4" fill="#e68f4d" stroke="#fff" stroke-width="3.1"/><circle cx="1645.70" cy="593.70" r="1.9" fill="#fff"/></g>
</g>
</svg>
<div class="box" style="left:19px;top:19px;width:48px;height:96px;background:#fff;border-radius:5px"></div>
<div class="box" style="left:19px;top:66.6px;width:48px;height:1px;background:#ccc"></div>
<div class="box" style="left:34.3px;top:44.5px;width:20px;height:3.7px;background:#000"></div>
<div class="box" style="left:42.45px;top:36.3px;width:3.7px;height:20px;background:#000"></div>
<div class="box" style="left:34.3px;top:92.7px;width:20px;height:3.7px;background:#000"></div>
</div>
</section>
</body></html>
